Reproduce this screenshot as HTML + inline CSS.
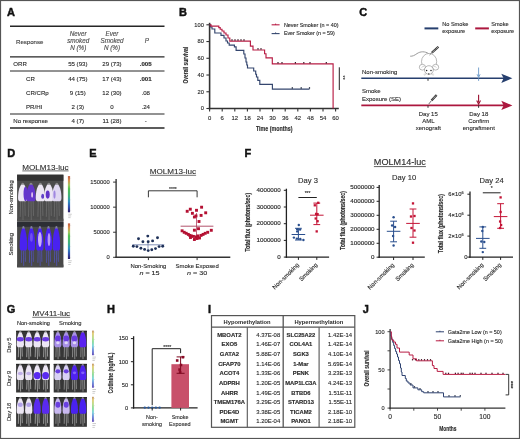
<!DOCTYPE html>
<html><head><meta charset="utf-8"><style>
html,body{margin:0;padding:0;background:#fff;width:520px;height:439px;overflow:hidden}
svg{display:block;will-change:transform}
text{font-family:"Liberation Sans",sans-serif;stroke:currentColor;stroke-width:0.12px;paint-order:stroke}
</style></head><body>
<svg width="520" height="439" viewBox="0 0 520 439" font-family="Liberation Sans, sans-serif">
<defs><filter id="blur06" x="-20%" y="-20%" width="140%" height="140%"><feGaussianBlur stdDeviation="0.6"/></filter></defs>
<rect x="0" y="0" width="520" height="439" fill="#fff"/>
<text x="7" y="16" font-size="11" text-anchor="start" font-weight="bold" fill="#111" color="#111" style="stroke-width:0.45px">A</text>
<line x1="10" y1="26.2" x2="164.5" y2="26.2" stroke="#262626" stroke-width="1.4"/>
<line x1="10" y1="56.9" x2="164.5" y2="56.9" stroke="#262626" stroke-width="1.4"/>
<line x1="10" y1="71" x2="164.5" y2="71" stroke="#262626" stroke-width="1.0"/>
<line x1="10" y1="114" x2="164.5" y2="114" stroke="#262626" stroke-width="1.2"/>
<line x1="10" y1="128" x2="164.5" y2="128" stroke="#262626" stroke-width="1.4"/>
<text x="16" y="43.6" font-size="6.1" text-anchor="start" fill="#3a3a3a" color="#3a3a3a">Response</text>
<text x="78.2" y="36.2" font-size="6.3" text-anchor="middle" font-style="italic" fill="#4a4a4a" color="#4a4a4a">Never</text>
<text x="78.2" y="43.1" font-size="6.3" text-anchor="middle" font-style="italic" fill="#4a4a4a" color="#4a4a4a">smoked</text>
<text x="78.2" y="50.0" font-size="6.3" text-anchor="middle" font-style="italic" fill="#4a4a4a" color="#4a4a4a">N (%)</text>
<text x="112" y="36.2" font-size="6.3" text-anchor="middle" font-style="italic" fill="#4a4a4a" color="#4a4a4a">Ever</text>
<text x="112" y="43.1" font-size="6.3" text-anchor="middle" font-style="italic" fill="#4a4a4a" color="#4a4a4a">Smoked</text>
<text x="112" y="50.0" font-size="6.3" text-anchor="middle" font-style="italic" fill="#4a4a4a" color="#4a4a4a">N (%)</text>
<text x="146.8" y="43.3" font-size="6.3" text-anchor="middle" font-style="italic" fill="#4a4a4a" color="#4a4a4a">P</text>
<text x="13.3" y="66.0" font-size="6.1" text-anchor="start" fill="#2a2a2a" color="#2a2a2a">ORR</text>
<text x="77.8" y="66.0" font-size="6.1" text-anchor="middle" fill="#2a2a2a" color="#2a2a2a">55 (93)</text>
<text x="112" y="66.0" font-size="6.1" text-anchor="middle" fill="#2a2a2a" color="#2a2a2a">29 (73)</text>
<text x="145.7" y="66.0" font-size="6.1" text-anchor="middle" font-weight="bold" fill="#2a2a2a" color="#2a2a2a" style="stroke-width:0.15px">.005</text>
<text x="26" y="80.6" font-size="6.1" text-anchor="start" fill="#2a2a2a" color="#2a2a2a">CR</text>
<text x="77.8" y="80.6" font-size="6.1" text-anchor="middle" fill="#2a2a2a" color="#2a2a2a">44 (75)</text>
<text x="112" y="80.6" font-size="6.1" text-anchor="middle" fill="#2a2a2a" color="#2a2a2a">17 (43)</text>
<text x="145.7" y="80.6" font-size="6.1" text-anchor="middle" font-weight="bold" fill="#2a2a2a" color="#2a2a2a" style="stroke-width:0.15px">.001</text>
<text x="26" y="94.7" font-size="6.1" text-anchor="start" fill="#2a2a2a" color="#2a2a2a">CR/CRp</text>
<text x="77.8" y="94.7" font-size="6.1" text-anchor="middle" fill="#2a2a2a" color="#2a2a2a">9 (15)</text>
<text x="112" y="94.7" font-size="6.1" text-anchor="middle" fill="#2a2a2a" color="#2a2a2a">12 (30)</text>
<text x="145.7" y="94.7" font-size="6.1" text-anchor="middle" fill="#2a2a2a" color="#2a2a2a">.08</text>
<text x="26" y="108.7" font-size="6.1" text-anchor="start" fill="#2a2a2a" color="#2a2a2a">PR/HI</text>
<text x="77.8" y="108.7" font-size="6.1" text-anchor="middle" fill="#2a2a2a" color="#2a2a2a">2 (3)</text>
<text x="112" y="108.7" font-size="6.1" text-anchor="middle" fill="#2a2a2a" color="#2a2a2a">0</text>
<text x="145.7" y="108.7" font-size="6.1" text-anchor="middle" fill="#2a2a2a" color="#2a2a2a">.24</text>
<text x="13.3" y="123.0" font-size="6.1" text-anchor="start" fill="#2a2a2a" color="#2a2a2a">No response</text>
<text x="77.8" y="123.0" font-size="6.1" text-anchor="middle" fill="#2a2a2a" color="#2a2a2a">4 (7)</text>
<text x="112" y="123.0" font-size="6.1" text-anchor="middle" fill="#2a2a2a" color="#2a2a2a">11 (28)</text>
<text x="145.7" y="123.0" font-size="6.1" text-anchor="middle" fill="#2a2a2a" color="#2a2a2a">-</text>
<text x="179" y="16" font-size="11" text-anchor="start" font-weight="bold" fill="#111" color="#111" style="stroke-width:0.45px">B</text>
<line x1="209.6" y1="22.8" x2="209.6" y2="109.3" stroke="#333" stroke-width="1.6"/>
<line x1="208.79999999999998" y1="108.5" x2="338.8" y2="108.5" stroke="#333" stroke-width="1.6"/>
<line x1="206.4" y1="108.5" x2="209.6" y2="108.5" stroke="#333" stroke-width="1.1"/>
<text transform="translate(203.9 110.4) scale(1.08 1)" font-size="5.3" text-anchor="end" fill="#2a2a2a" color="#2a2a2a">0</text>
<line x1="206.4" y1="91.76" x2="209.6" y2="91.76" stroke="#333" stroke-width="1.1"/>
<text transform="translate(203.9 93.66000000000001) scale(1.08 1)" font-size="5.3" text-anchor="end" fill="#2a2a2a" color="#2a2a2a">20</text>
<line x1="206.4" y1="75.02000000000001" x2="209.6" y2="75.02000000000001" stroke="#333" stroke-width="1.1"/>
<text transform="translate(203.9 76.92000000000002) scale(1.08 1)" font-size="5.3" text-anchor="end" fill="#2a2a2a" color="#2a2a2a">40</text>
<line x1="206.4" y1="58.28" x2="209.6" y2="58.28" stroke="#333" stroke-width="1.1"/>
<text transform="translate(203.9 60.18) scale(1.08 1)" font-size="5.3" text-anchor="end" fill="#2a2a2a" color="#2a2a2a">60</text>
<line x1="206.4" y1="41.540000000000006" x2="209.6" y2="41.540000000000006" stroke="#333" stroke-width="1.1"/>
<text transform="translate(203.9 43.440000000000005) scale(1.08 1)" font-size="5.3" text-anchor="end" fill="#2a2a2a" color="#2a2a2a">80</text>
<line x1="206.4" y1="24.799999999999997" x2="209.6" y2="24.799999999999997" stroke="#333" stroke-width="1.1"/>
<text transform="translate(203.9 26.699999999999996) scale(1.08 1)" font-size="5.3" text-anchor="end" fill="#2a2a2a" color="#2a2a2a">100</text>
<line x1="209.6" y1="108.5" x2="209.6" y2="111.5" stroke="#333" stroke-width="1.1"/>
<text transform="translate(209.6 119.5) scale(1.08 1)" font-size="5.5" text-anchor="middle" fill="#2a2a2a" color="#2a2a2a">0</text>
<line x1="222.2" y1="108.5" x2="222.2" y2="111.5" stroke="#333" stroke-width="1.1"/>
<text transform="translate(222.2 119.5) scale(1.08 1)" font-size="5.5" text-anchor="middle" fill="#2a2a2a" color="#2a2a2a">6</text>
<line x1="234.8" y1="108.5" x2="234.8" y2="111.5" stroke="#333" stroke-width="1.1"/>
<text transform="translate(234.8 119.5) scale(1.08 1)" font-size="5.5" text-anchor="middle" fill="#2a2a2a" color="#2a2a2a">12</text>
<line x1="247.4" y1="108.5" x2="247.4" y2="111.5" stroke="#333" stroke-width="1.1"/>
<text transform="translate(247.4 119.5) scale(1.08 1)" font-size="5.5" text-anchor="middle" fill="#2a2a2a" color="#2a2a2a">18</text>
<line x1="260.0" y1="108.5" x2="260.0" y2="111.5" stroke="#333" stroke-width="1.1"/>
<text transform="translate(260.0 119.5) scale(1.08 1)" font-size="5.5" text-anchor="middle" fill="#2a2a2a" color="#2a2a2a">24</text>
<line x1="272.6" y1="108.5" x2="272.6" y2="111.5" stroke="#333" stroke-width="1.1"/>
<text transform="translate(272.6 119.5) scale(1.08 1)" font-size="5.5" text-anchor="middle" fill="#2a2a2a" color="#2a2a2a">30</text>
<line x1="285.2" y1="108.5" x2="285.2" y2="111.5" stroke="#333" stroke-width="1.1"/>
<text transform="translate(285.2 119.5) scale(1.08 1)" font-size="5.5" text-anchor="middle" fill="#2a2a2a" color="#2a2a2a">36</text>
<line x1="297.8" y1="108.5" x2="297.8" y2="111.5" stroke="#333" stroke-width="1.1"/>
<text transform="translate(297.8 119.5) scale(1.08 1)" font-size="5.5" text-anchor="middle" fill="#2a2a2a" color="#2a2a2a">42</text>
<line x1="310.4" y1="108.5" x2="310.4" y2="111.5" stroke="#333" stroke-width="1.1"/>
<text transform="translate(310.4 119.5) scale(1.08 1)" font-size="5.5" text-anchor="middle" fill="#2a2a2a" color="#2a2a2a">48</text>
<line x1="323.0" y1="108.5" x2="323.0" y2="111.5" stroke="#333" stroke-width="1.1"/>
<text transform="translate(323.0 119.5) scale(1.08 1)" font-size="5.5" text-anchor="middle" fill="#2a2a2a" color="#2a2a2a">54</text>
<line x1="335.6" y1="108.5" x2="335.6" y2="111.5" stroke="#333" stroke-width="1.1"/>
<text transform="translate(335.6 119.5) scale(1.08 1)" font-size="5.5" text-anchor="middle" fill="#2a2a2a" color="#2a2a2a">60</text>
<text transform="translate(274.2 130.5) scale(0.73 1)" font-size="7.3" text-anchor="middle" font-weight="bold" fill="#2a2a2a" color="#2a2a2a" style="stroke-width:0.15px">Time (months)</text>
<text transform="translate(188.4 65.2) rotate(-90) scale(0.735 1)" font-size="6.7" text-anchor="middle" font-weight="bold" fill="#2a2a2a" color="#2a2a2a" style="stroke-width:0.15px">Overall survival</text>
<polyline points="209.60,24.80 210.50,24.80 210.50,27.00 212.00,27.00 212.00,29.00 214.80,29.00 214.80,33.00 221.00,33.00 221.00,35.30 224.00,35.30 224.00,38.00 226.00,38.00 226.00,41.00 227.50,41.00 227.50,43.00 229.20,43.00 229.20,45.10 234.40,45.10 234.40,46.80 236.10,46.80 236.10,50.30 243.80,50.30 243.80,54.00 245.00,54.00 245.00,58.00 246.00,58.00 246.00,62.00 246.80,62.00 246.80,65.00 247.50,65.00 247.50,68.00 253.70,68.00 253.70,71.00 255.70,71.00 255.70,74.20 256.50,74.20 256.50,77.00 257.80,77.00 257.80,80.30 259.80,80.30 259.80,84.40 272.40,84.40 272.40,89.10 309.50,89.10" fill="none" stroke="#34466e" stroke-width="1.15"/>
<polyline points="209.60,24.80 211.00,24.80 211.00,26.10 218.80,26.10 218.80,27.60 220.20,27.60 220.20,29.20 222.00,29.20 222.00,31.00 224.00,31.00 224.00,33.00 226.00,33.00 226.00,35.00 228.00,35.00 228.00,38.00 229.80,38.00 229.80,41.10 250.40,41.10 250.40,46.10 253.00,46.10 253.00,50.00 264.60,50.00 264.60,53.70 266.00,53.70 266.00,57.80 272.30,57.80 272.30,63.90 333.10,63.90 333.10,108.50" fill="none" stroke="#b81c44" stroke-width="1.15"/>
<rect x="231.4" y="39.2" width="1.2" height="1.5" fill="#3a1a28"/>
<rect x="234.4" y="39.2" width="1.2" height="1.5" fill="#3a1a28"/>
<rect x="237.4" y="39.2" width="1.2" height="1.5" fill="#3a1a28"/>
<rect x="240.4" y="39.2" width="1.2" height="1.5" fill="#3a1a28"/>
<rect x="243.4" y="39.2" width="1.2" height="1.5" fill="#3a1a28"/>
<rect x="257.4" y="48.1" width="1.2" height="1.5" fill="#3a1a28"/>
<rect x="260.4" y="48.1" width="1.2" height="1.5" fill="#3a1a28"/>
<rect x="277.4" y="62.0" width="1.2" height="1.5" fill="#3a1a28"/>
<rect x="281.4" y="62.0" width="1.2" height="1.5" fill="#3a1a28"/>
<rect x="294.79999999999995" y="62.0" width="1.2" height="1.5" fill="#3a1a28"/>
<rect x="303.2" y="62.0" width="1.2" height="1.5" fill="#3a1a28"/>
<rect x="309.4" y="62.0" width="1.2" height="1.5" fill="#3a1a28"/>
<rect x="325.7" y="62.0" width="1.2" height="1.5" fill="#3a1a28"/>
<rect x="291.7" y="87.19999999999999" width="1.2" height="1.5" fill="#1a2438"/>
<rect x="300.59999999999997" y="87.19999999999999" width="1.2" height="1.5" fill="#1a2438"/>
<rect x="308.9" y="87.19999999999999" width="1.2" height="1.5" fill="#1a2438"/>
<line x1="271.6" y1="24.8" x2="279.6" y2="24.8" stroke="#b81c44" stroke-width="1.1"/>
<line x1="275.6" y1="23.6" x2="275.6" y2="25" stroke="#b81c44" stroke-width="0.9"/>
<text transform="translate(283.9 26.7) scale(1.08 1)" font-size="5.0" text-anchor="start" fill="#2a2a2a" color="#2a2a2a">Never Smoker (n = 40)</text>
<line x1="271.6" y1="33.6" x2="279.6" y2="33.6" stroke="#34466e" stroke-width="1.1"/>
<line x1="275.6" y1="32.4" x2="275.6" y2="33.8" stroke="#34466e" stroke-width="0.9"/>
<text transform="translate(283.9 35.3) scale(1.07 1)" font-size="5.0" text-anchor="start" fill="#2a2a2a" color="#2a2a2a">Ever Smoker (n = 59)</text>
<line x1="339.3" y1="67.3" x2="339.3" y2="90.0" stroke="#222" stroke-width="1.0"/>
<text transform="translate(341.3 77.7) rotate(90)" font-size="5.4" text-anchor="middle" fill="#2a2a2a" color="#2a2a2a">**</text>
<text x="359.2" y="16" font-size="11" text-anchor="start" font-weight="bold" fill="#111" color="#111" style="stroke-width:0.45px">C</text>
<line x1="424.5" y1="28.4" x2="438.3" y2="28.4" stroke="#263f6e" stroke-width="2"/>
<text x="442.2" y="25.8" font-size="5.6" text-anchor="start" fill="#2a2a2a" color="#2a2a2a">No Smoke</text>
<text x="442.2" y="33.4" font-size="5.6" text-anchor="start" fill="#2a2a2a" color="#2a2a2a">exposure</text>
<line x1="475.2" y1="28.4" x2="488.9" y2="28.4" stroke="#ac173e" stroke-width="2"/>
<text x="491.2" y="25.8" font-size="5.6" text-anchor="start" fill="#2a2a2a" color="#2a2a2a">Smoke</text>
<text x="491.2" y="33.4" font-size="5.6" text-anchor="start" fill="#2a2a2a" color="#2a2a2a">exposure</text>
<text x="362" y="73.6" font-size="6.0" text-anchor="start" fill="#2a2a2a" color="#2a2a2a">Non-smoking</text>
<line x1="361.3" y1="78.3" x2="504" y2="78.3" stroke="#263f6e" stroke-width="1.6"/>
<path d="M501.3 73.7 L512.4 78.3 L501.3 82.9 L503.6 78.3 Z" fill="#263f6e"/>
<text x="362" y="93.0" font-size="6.0" text-anchor="start" fill="#2a2a2a" color="#2a2a2a">Smoke</text>
<text x="362" y="100.6" font-size="6.0" text-anchor="start" fill="#2a2a2a" color="#2a2a2a">Exposure (SE)</text>
<line x1="361.3" y1="105.4" x2="504" y2="105.4" stroke="#ac173e" stroke-width="1.7"/>
<path d="M501.3 100.7 L512.4 105.4 L501.3 110.1 L503.6 105.4 Z" fill="#ac173e"/>
<line x1="428" y1="78.3" x2="428" y2="80.8" stroke="#333" stroke-width="1"/>
<line x1="428" y1="105.4" x2="428" y2="107.8" stroke="#333" stroke-width="1"/>
<line x1="478.6" y1="105.4" x2="478.6" y2="107.8" stroke="#333" stroke-width="1"/>
<line x1="478.6" y1="67.5" x2="478.6" y2="76.5" stroke="#6a98c8" stroke-width="0.9"/>
<line x1="478.6" y1="78.3" x2="478.6" y2="80.9" stroke="#6a98c8" stroke-width="0.9"/>
<path d="M477.1 74.3 L478.6 77.4 L480.1 74.3" fill="none" stroke="#6a98c8" stroke-width="0.9"/>
<line x1="478.6" y1="94.8" x2="478.6" y2="102.5" stroke="#9b1030" stroke-width="1.1"/>
<path d="M476.7 100.5 L478.6 104 L480.5 100.5" fill="none" stroke="#9b1030" stroke-width="1.1"/>
<text x="428.3" y="116.2" font-size="6.0" text-anchor="middle" fill="#2a2a2a" color="#2a2a2a">Day 15</text>
<text x="428.3" y="123.3" font-size="6.0" text-anchor="middle" fill="#2a2a2a" color="#2a2a2a">AML</text>
<text x="428.3" y="130.4" font-size="6.0" text-anchor="middle" fill="#2a2a2a" color="#2a2a2a">xenograft</text>
<text x="478.8" y="116.2" font-size="6.0" text-anchor="middle" fill="#2a2a2a" color="#2a2a2a">Day 18</text>
<text x="478.8" y="123.3" font-size="6.0" text-anchor="middle" fill="#2a2a2a" color="#2a2a2a">Confirm</text>
<text x="478.8" y="130.4" font-size="6.0" text-anchor="middle" fill="#2a2a2a" color="#2a2a2a">engraftment</text>
<line x1="431.5" y1="100.5" x2="436.6" y2="95" stroke="#333" stroke-width="2.2"/>
<line x1="431.5" y1="100.5" x2="436.6" y2="95" stroke="#fff" stroke-width="0.9" stroke-dasharray="0.9 0.9"/>
<line x1="428.8" y1="104" x2="431.5" y2="100.5" stroke="#333" stroke-width="0.7"/>
<g fill="#fff" stroke="#8a8a8a" stroke-width="0.6"><path d="M428.6 53.6 C425 51.2, 420.5 51.2, 417 53.6 C414.5 55.4, 412.5 56.4, 410.2 56.2" fill="none" stroke="#9a9a9a" stroke-width="1.0"/><ellipse cx="429.1" cy="61.6" rx="7.6" ry="8.2"/><ellipse cx="422.4" cy="67.2" rx="3.1" ry="2.9"/><ellipse cx="435.6" cy="67.2" rx="3.1" ry="2.9"/><path d="M421.6 67.8 Q422.6 65.6 424.2 66.4 M436.4 67.8 Q435.4 65.6 433.8 66.4" fill="none" stroke="#aaa" stroke-width="0.5"/><ellipse cx="428.9" cy="70.0" rx="4.4" ry="4.3"/></g>
<circle cx="426.6" cy="70.6" r="0.75" fill="#222"/><circle cx="431.0" cy="70.6" r="0.75" fill="#222"/><circle cx="428.8" cy="73.9" r="0.7" fill="#222"/>
<path d="M426.5 73.5 L423.5 74.3 M426.5 74.2 L424 75.3 M431.1 73.5 L434.1 74.3 M431.1 74.2 L433.6 75.3" stroke="#999" stroke-width="0.35"/>
<line x1="431.8" y1="52.8" x2="438.4" y2="46.8" stroke="#333" stroke-width="2.2"/>
<line x1="431.8" y1="52.8" x2="438.4" y2="46.8" stroke="#fff" stroke-width="0.9" stroke-dasharray="0.9 0.9"/>
<line x1="429.5" y1="55" x2="431.8" y2="52.8" stroke="#333" stroke-width="0.6"/>
<text x="7.2" y="157" font-size="11" text-anchor="start" font-weight="bold" fill="#111" color="#111" style="stroke-width:0.45px">D</text>
<text x="22.3" y="169.6" font-size="8.1" text-anchor="start" fill="#2a2a2a" color="#2a2a2a">MOLM13-luc</text>
<line x1="22.3" y1="170.9" x2="68.6" y2="170.9" stroke="#333" stroke-width="0.7"/>
<text transform="translate(12.7 197.4) rotate(-90)" font-size="5.8" text-anchor="middle" fill="#2a2a2a" color="#2a2a2a">Non-smoking</text>
<text transform="translate(12.6 244.2) rotate(-90)" font-size="5.8" text-anchor="middle" fill="#2a2a2a" color="#2a2a2a">Smoking</text>
<rect x="17.1" y="174.7" width="46.3" height="46.8" fill="#4c4c4c"/>
<rect x="17.1" y="174.7" width="46.3" height="6.084" fill="#333333"/>
<rect x="17.1" y="218.69199999999998" width="46.3" height="2.808" fill="#505050"/>
<g filter="url(#blur06)">
<path d="M20.6 200.1 L20.2 216.8 M24.8 200.1 L25.2 215.9 M22.7 201.1 L23.0 220.1" stroke="#6a6a6a" stroke-width="0.9" fill="none"/>
<ellipse cx="22.7" cy="184.4" rx="1.5" ry="1.6" fill="#8a8a8a"/>
<path d="M21.08 184.76 L24.32 184.76 C25.94 187.22 27.33 191.31 27.33 197.87 Q27.33 201.14 25.94 201.14 L19.46 201.14 Q18.07 201.14 18.07 197.87 C18.07 191.31 19.46 187.22 21.08 184.76 Z" fill="#ece6f4"/>
<ellipse cx="25.5" cy="193.8" rx="2.0" ry="7.4" fill="#6434cc"/>
<path d="M28.9 200.1 L28.5 216.8 M33.1 200.1 L33.5 215.9 M31.0 201.1 L31.3 220.1" stroke="#6a6a6a" stroke-width="0.9" fill="none"/>
<ellipse cx="31.0" cy="184.4" rx="1.5" ry="1.6" fill="#8a8a8a"/>
<path d="M29.38 184.76 L32.62 184.76 C34.24 187.22 35.63 191.31 35.63 197.87 Q35.63 201.14 34.24 201.14 L27.76 201.14 Q26.37 201.14 26.37 197.87 C26.37 191.31 27.76 187.22 29.38 184.76 Z" fill="#6434cc"/>
<ellipse cx="32.1" cy="194.9" rx="0.9" ry="2.9" fill="#e6c8f2"/>
<path d="M38.3 200.1 L37.9 216.8 M42.5 200.1 L42.9 215.9 M40.4 201.1 L40.7 220.1" stroke="#6a6a6a" stroke-width="0.9" fill="none"/>
<ellipse cx="40.4" cy="184.4" rx="1.5" ry="1.6" fill="#8a8a8a"/>
<path d="M38.78 184.76 L42.02 184.76 C43.64 187.22 45.03 191.31 45.03 197.87 Q45.03 201.14 43.64 201.14 L37.16 201.14 Q35.77 201.14 35.77 197.87 C35.77 191.31 37.16 187.22 38.78 184.76 Z" fill="#ece6f4"/>
<ellipse cx="42.7" cy="196.2" rx="1.5" ry="2.5" fill="#6040c8"/>
<path d="M46.7 200.1 L46.3 216.8 M50.9 200.1 L51.3 215.9 M48.8 201.1 L49.1 220.1" stroke="#6a6a6a" stroke-width="0.9" fill="none"/>
<ellipse cx="48.8" cy="184.4" rx="1.5" ry="1.6" fill="#8a8a8a"/>
<path d="M47.18 184.76 L50.42 184.76 C52.04 187.22 53.43 191.31 53.43 197.87 Q53.43 201.14 52.04 201.14 L45.56 201.14 Q44.17 201.14 44.17 197.87 C44.17 191.31 45.56 187.22 47.18 184.76 Z" fill="#ece6f4"/>
<ellipse cx="47.7" cy="194.6" rx="2.0" ry="4.1" fill="#6030c8"/>
<path d="M54.7 200.1 L54.3 216.8 M58.9 200.1 L59.3 215.9 M56.8 201.1 L57.1 220.1" stroke="#6a6a6a" stroke-width="0.9" fill="none"/>
<ellipse cx="56.8" cy="184.4" rx="1.5" ry="1.6" fill="#8a8a8a"/>
<path d="M55.18 184.76 L58.42 184.76 C60.04 187.22 61.43 191.31 61.43 197.87 Q61.43 201.14 60.04 201.14 L53.56 201.14 Q52.17 201.14 52.17 197.87 C52.17 191.31 53.56 187.22 55.18 184.76 Z" fill="#e0d8f2"/>
<ellipse cx="54.5" cy="194.6" rx="1.1" ry="4.1" fill="#a088e0"/>
</g>
<rect x="17.1" y="221.8" width="46.3" height="45.5" fill="#484848"/>
<rect x="17.1" y="221.8" width="46.3" height="5.005" fill="#2c2e34"/>
<rect x="17.1" y="264.57" width="46.3" height="2.73" fill="#4a4a4a"/>
<g filter="url(#blur06)">
<path d="M21.7 249.5 L21.4 262.8 M25.1 249.5 L25.4 261.8 M23.4 250.5 L23.7 265.9" stroke="#5050a0" stroke-width="1.0" fill="none"/>
<ellipse cx="23.4" cy="228.2" rx="1.2" ry="2.2" fill="#8080a0"/>
<path d="M22.10 228.62 L24.70 228.62 C25.99 231.90 27.10 237.36 27.10 246.10 Q27.10 250.47 25.99 250.47 L20.81 250.47 Q19.70 250.47 19.70 246.10 C19.70 237.36 20.81 231.90 22.10 228.62 Z" fill="#4a22f0"/>
<path d="M29.7 249.5 L29.4 262.8 M33.1 249.5 L33.4 261.8 M31.4 250.5 L31.7 265.9" stroke="#5050a0" stroke-width="1.0" fill="none"/>
<ellipse cx="31.4" cy="228.2" rx="1.2" ry="2.2" fill="#8080a0"/>
<path d="M30.10 228.62 L32.70 228.62 C33.99 231.90 35.10 237.36 35.10 246.10 Q35.10 250.47 33.99 250.47 L28.81 250.47 Q27.70 250.47 27.70 246.10 C27.70 237.36 28.81 231.90 30.10 228.62 Z" fill="#4a22f0"/>
<ellipse cx="31.4" cy="237.4" rx="1.4" ry="4.4" fill="#7050f0"/>
<path d="M38.2 249.5 L37.9 262.8 M41.6 249.5 L41.9 261.8 M39.9 250.5 L40.2 265.9" stroke="#5050a0" stroke-width="1.0" fill="none"/>
<ellipse cx="39.9" cy="228.2" rx="1.2" ry="2.2" fill="#8080a0"/>
<path d="M38.60 228.62 L41.20 228.62 C42.49 231.90 43.60 237.36 43.60 246.10 Q43.60 250.47 42.49 250.47 L37.31 250.47 Q36.20 250.47 36.20 246.10 C36.20 237.36 37.31 231.90 38.60 228.62 Z" fill="#4a22f0"/>
<ellipse cx="39.9" cy="239.5" rx="1.9" ry="7.6" fill="#c8b0f8"/>
<path d="M46.8 249.5 L46.5 262.8 M50.2 249.5 L50.5 261.8 M48.5 250.5 L48.8 265.9" stroke="#5050a0" stroke-width="1.0" fill="none"/>
<ellipse cx="48.5" cy="228.2" rx="1.2" ry="2.2" fill="#8080a0"/>
<path d="M47.20 228.62 L49.80 228.62 C51.09 231.90 52.20 237.36 52.20 246.10 Q52.20 250.47 51.09 250.47 L45.91 250.47 Q44.80 250.47 44.80 246.10 C44.80 237.36 45.91 231.90 47.20 228.62 Z" fill="#4a22f0"/>
<ellipse cx="49.0" cy="239.5" rx="1.4" ry="6.6" fill="#b898f8"/>
<path d="M54.7 249.5 L54.4 262.8 M58.1 249.5 L58.4 261.8 M56.4 250.5 L56.7 265.9" stroke="#5050a0" stroke-width="1.0" fill="none"/>
<ellipse cx="56.4" cy="228.2" rx="1.2" ry="2.2" fill="#8080a0"/>
<path d="M55.10 228.62 L57.70 228.62 C58.99 231.90 60.10 237.36 60.10 246.10 Q60.10 250.47 58.99 250.47 L53.81 250.47 Q52.70 250.47 52.70 246.10 C52.70 237.36 53.81 231.90 55.10 228.62 Z" fill="#4a22f0"/>
</g>
<defs><linearGradient id="cbd1" x1="0" y1="0" x2="0" y2="1"><stop offset="0" stop-color="#c05a40"/><stop offset="0.12" stop-color="#d89050"/><stop offset="0.25" stop-color="#a0c860"/><stop offset="0.35" stop-color="#50c050"/><stop offset="0.55" stop-color="#40b080"/><stop offset="0.7" stop-color="#3090c0"/><stop offset="0.85" stop-color="#3050b0"/><stop offset="1" stop-color="#302068"/></linearGradient></defs>
<rect x="67.9" y="176.1" width="2.2" height="36.2" fill="url(#cbd1)"/>
<rect x="70.50000000000001" y="177.91" width="0.6" height="0.5" fill="#c0c0c0"/>
<rect x="70.50000000000001" y="188.76999999999998" width="0.6" height="0.5" fill="#c0c0c0"/>
<rect x="70.50000000000001" y="199.63" width="0.6" height="0.5" fill="#c0c0c0"/>
<rect x="70.50000000000001" y="210.49" width="0.6" height="0.5" fill="#c0c0c0"/>
<rect x="68.2" y="213.8" width="3.6" height="0.7" fill="#b8b8b8"/>
<rect x="68.2" y="215.60000000000002" width="3.0" height="0.7" fill="#b8b8b8"/>
<rect x="68.2" y="217.4" width="2.4000000000000004" height="0.7" fill="#b8b8b8"/>
<defs><linearGradient id="cbd2" x1="0" y1="0" x2="0" y2="1"><stop offset="0" stop-color="#c05a40"/><stop offset="0.12" stop-color="#d89050"/><stop offset="0.25" stop-color="#a0c860"/><stop offset="0.35" stop-color="#50c050"/><stop offset="0.55" stop-color="#40b080"/><stop offset="0.7" stop-color="#3090c0"/><stop offset="0.85" stop-color="#3050b0"/><stop offset="1" stop-color="#302068"/></linearGradient></defs>
<rect x="67.9" y="223.4" width="2.2" height="35.6" fill="url(#cbd2)"/>
<rect x="70.50000000000001" y="225.18" width="0.6" height="0.5" fill="#c0c0c0"/>
<rect x="70.50000000000001" y="235.86" width="0.6" height="0.5" fill="#c0c0c0"/>
<rect x="70.50000000000001" y="246.54000000000002" width="0.6" height="0.5" fill="#c0c0c0"/>
<rect x="70.50000000000001" y="257.22" width="0.6" height="0.5" fill="#c0c0c0"/>
<rect x="68.2" y="260.5" width="3.6" height="0.7" fill="#b8b8b8"/>
<rect x="68.2" y="262.3" width="3.0" height="0.7" fill="#b8b8b8"/>
<rect x="68.2" y="264.1" width="2.4000000000000004" height="0.7" fill="#b8b8b8"/>
<text x="89.3" y="157" font-size="11" text-anchor="start" font-weight="bold" fill="#111" color="#111" style="stroke-width:0.45px">E</text>
<text x="173" y="174.0" font-size="8.1" text-anchor="middle" fill="#2a2a2a" color="#2a2a2a">MOLM13-luc</text>
<line x1="149.9" y1="175.3" x2="196.1" y2="175.3" stroke="#333" stroke-width="0.7"/>
<line x1="116.1" y1="179.1" x2="116.1" y2="258.0" stroke="#222" stroke-width="1.25"/>
<line x1="115.39999999999999" y1="257.3" x2="230.3" y2="257.3" stroke="#333" stroke-width="1.4"/>
<line x1="113.1" y1="257.3" x2="116.1" y2="257.3" stroke="#333" stroke-width="1"/>
<text x="109.7" y="259.3" font-size="5.8" text-anchor="end" fill="#2a2a2a" color="#2a2a2a">0</text>
<line x1="113.1" y1="232.23333333333335" x2="116.1" y2="232.23333333333335" stroke="#333" stroke-width="1"/>
<text x="109.7" y="234.23333333333335" font-size="5.8" text-anchor="end" fill="#2a2a2a" color="#2a2a2a">50000</text>
<line x1="113.1" y1="207.16666666666669" x2="116.1" y2="207.16666666666669" stroke="#333" stroke-width="1"/>
<text x="109.7" y="209.16666666666669" font-size="5.8" text-anchor="end" fill="#2a2a2a" color="#2a2a2a">100000</text>
<line x1="113.1" y1="182.10000000000002" x2="116.1" y2="182.10000000000002" stroke="#333" stroke-width="1"/>
<text x="109.7" y="184.10000000000002" font-size="5.8" text-anchor="end" fill="#2a2a2a" color="#2a2a2a">150000</text>
<line x1="148.4" y1="257.3" x2="148.4" y2="260.1" stroke="#333" stroke-width="1"/>
<line x1="197.1" y1="257.3" x2="197.1" y2="260.1" stroke="#333" stroke-width="1"/>
<path d="M148.4 197.3 V190.8 H197.1 V197.3" fill="none" stroke="#222" stroke-width="0.9"/>
<text x="172.9" y="190.9" font-size="5.0" text-anchor="middle" fill="#2a2a2a" color="#2a2a2a">****</text>
<text x="148.4" y="268.0" font-size="5.95" text-anchor="middle" fill="#2a2a2a" color="#2a2a2a">Non-Smoking</text>
<text transform="translate(149.5 274.9) scale(1.2 1)" font-size="6.0" text-anchor="middle" fill="#2a2a2a" color="#2a2a2a"><tspan font-style="italic">n</tspan> = 15</text>
<text x="197.1" y="268.0" font-size="5.95" text-anchor="middle" fill="#2a2a2a" color="#2a2a2a">Smoke Exposed</text>
<text transform="translate(197.1 274.9) scale(1.2 1)" font-size="6.0" text-anchor="middle" fill="#2a2a2a" color="#2a2a2a"><tspan font-style="italic">n</tspan> = 30</text>
<line x1="148.0" y1="240.7" x2="148.0" y2="249.3" stroke="#7080a8" stroke-width="0.8"/>
<line x1="132.4" y1="244.8" x2="164.3" y2="244.8" stroke="#7888b0" stroke-width="0.9"/>
<circle cx="147.8" cy="236.1" r="1.45" fill="#1e3058"/>
<circle cx="138.5" cy="238.7" r="1.45" fill="#1e3058"/>
<circle cx="157.5" cy="237.7" r="1.45" fill="#1e3058"/>
<circle cx="142.9" cy="241.7" r="1.45" fill="#1e3058"/>
<circle cx="148.2" cy="241.7" r="1.45" fill="#1e3058"/>
<circle cx="152.6" cy="240.9" r="1.45" fill="#1e3058"/>
<circle cx="133.3" cy="246.2" r="1.45" fill="#1e3058"/>
<circle cx="136.9" cy="246.6" r="1.45" fill="#1e3058"/>
<circle cx="140.9" cy="248.2" r="1.45" fill="#1e3058"/>
<circle cx="144.6" cy="249.4" r="1.45" fill="#1e3058"/>
<circle cx="148.2" cy="250.6" r="1.45" fill="#1e3058"/>
<circle cx="151.8" cy="249.8" r="1.45" fill="#1e3058"/>
<circle cx="155.5" cy="248.6" r="1.45" fill="#1e3058"/>
<circle cx="159.1" cy="246.6" r="1.45" fill="#1e3058"/>
<circle cx="162.7" cy="246.2" r="1.45" fill="#1e3058"/>
<line x1="196.5" y1="213" x2="196.5" y2="237" stroke="#b04060" stroke-width="0.8"/>
<line x1="180.6" y1="226.2" x2="213.4" y2="226.2" stroke="#a8405a" stroke-width="0.9"/>
<rect x="185.75" y="209.85" width="2.9" height="2.9" fill="#b41032"/>
<rect x="188.85" y="207.75" width="2.9" height="2.9" fill="#b41032"/>
<rect x="195.05" y="208.85" width="2.9" height="2.9" fill="#b41032"/>
<rect x="200.15" y="205.75" width="2.9" height="2.9" fill="#b41032"/>
<rect x="204.25" y="211.35" width="2.9" height="2.9" fill="#b41032"/>
<rect x="190.95" y="211.85" width="2.9" height="2.9" fill="#b41032"/>
<rect x="194.55" y="214.45" width="2.9" height="2.9" fill="#b41032"/>
<rect x="199.65" y="213.95" width="2.9" height="2.9" fill="#b41032"/>
<rect x="192.95" y="215.55" width="2.9" height="2.9" fill="#b41032"/>
<rect x="197.55" y="220.05" width="2.9" height="2.9" fill="#b41032"/>
<rect x="197.05" y="227.25" width="2.9" height="2.9" fill="#b41032"/>
<rect x="192.95" y="228.75" width="2.9" height="2.9" fill="#b41032"/>
<rect x="180.65" y="229.35" width="2.9" height="2.9" fill="#b41032"/>
<rect x="182.75" y="230.85" width="2.9" height="2.9" fill="#b41032"/>
<rect x="184.75" y="231.85" width="2.9" height="2.9" fill="#b41032"/>
<rect x="186.85" y="232.95" width="2.9" height="2.9" fill="#b41032"/>
<rect x="188.35" y="233.95" width="2.9" height="2.9" fill="#b41032"/>
<rect x="189.85" y="234.45" width="2.9" height="2.9" fill="#b41032"/>
<rect x="191.95" y="234.95" width="2.9" height="2.9" fill="#b41032"/>
<rect x="192.95" y="238.05" width="2.9" height="2.9" fill="#b41032"/>
<rect x="194.45" y="235.45" width="2.9" height="2.9" fill="#b41032"/>
<rect x="196.55" y="234.45" width="2.9" height="2.9" fill="#b41032"/>
<rect x="198.05" y="236.55" width="2.9" height="2.9" fill="#b41032"/>
<rect x="199.65" y="233.95" width="2.9" height="2.9" fill="#b41032"/>
<rect x="201.65" y="232.95" width="2.9" height="2.9" fill="#b41032"/>
<rect x="203.75" y="231.85" width="2.9" height="2.9" fill="#b41032"/>
<rect x="206.25" y="230.85" width="2.9" height="2.9" fill="#b41032"/>
<rect x="209.85" y="228.85" width="2.9" height="2.9" fill="#b41032"/>
<rect x="189.05" y="236.05" width="2.9" height="2.9" fill="#b41032"/>
<rect x="195.55" y="237.05" width="2.9" height="2.9" fill="#b41032"/>
<text x="244.6" y="157" font-size="11" text-anchor="start" font-weight="bold" fill="#111" color="#111" style="stroke-width:0.45px">F</text>
<text x="399.9" y="165.2" font-size="9.1" text-anchor="middle" fill="#2a2a2a" color="#2a2a2a">MOLM14-luc</text>
<line x1="373.9" y1="166.6" x2="425.9" y2="166.6" stroke="#333" stroke-width="0.8"/>
<line x1="286.4" y1="188.7" x2="286.4" y2="257.8" stroke="#222" stroke-width="1.3"/>
<line x1="285.7" y1="257.1" x2="329.1" y2="257.1" stroke="#222" stroke-width="1.3"/>
<line x1="283.79999999999995" y1="257.1" x2="286.4" y2="257.1" stroke="#222" stroke-width="1.0"/>
<text transform="translate(280.8 258.8) scale(1.36 1)" font-size="4.6" text-anchor="end" fill="#2a2a2a" color="#2a2a2a">0</text>
<line x1="283.79999999999995" y1="240.4" x2="286.4" y2="240.4" stroke="#222" stroke-width="1.0"/>
<text transform="translate(280.8 242.1) scale(1.36 1)" font-size="4.6" text-anchor="end" fill="#2a2a2a" color="#2a2a2a">1000000</text>
<line x1="283.79999999999995" y1="223.7" x2="286.4" y2="223.7" stroke="#222" stroke-width="1.0"/>
<text transform="translate(280.8 225.39999999999998) scale(1.36 1)" font-size="4.6" text-anchor="end" fill="#2a2a2a" color="#2a2a2a">2000000</text>
<line x1="283.79999999999995" y1="207.0" x2="286.4" y2="207.0" stroke="#222" stroke-width="1.0"/>
<text transform="translate(280.8 208.7) scale(1.36 1)" font-size="4.6" text-anchor="end" fill="#2a2a2a" color="#2a2a2a">3000000</text>
<line x1="283.79999999999995" y1="190.3" x2="286.4" y2="190.3" stroke="#222" stroke-width="1.0"/>
<text transform="translate(280.8 192.0) scale(1.36 1)" font-size="4.6" text-anchor="end" fill="#2a2a2a" color="#2a2a2a">4000000</text>
<text transform="translate(308.0 182.7) scale(0.95 1)" font-size="8.0" text-anchor="middle" fill="#2a2a2a" color="#2a2a2a">Day 3</text>
<text transform="translate(250.39999999999998 222.3) rotate(-90) scale(0.79 1)" font-size="6.7" text-anchor="middle" font-weight="bold" fill="#2a2a2a" color="#2a2a2a" style="stroke-width:0.15px">Total flux (photons/sec)</text>
<line x1="298.4" y1="257.1" x2="298.4" y2="259.90000000000003" stroke="#222" stroke-width="1.0"/>
<line x1="316.8" y1="257.1" x2="316.8" y2="259.90000000000003" stroke="#222" stroke-width="1.0"/>
<text transform="translate(299.4 265.3) rotate(-45)" font-size="5.9" text-anchor="end" fill="#2a2a2a" color="#2a2a2a">Non-smoking</text>
<text transform="translate(317.8 265.3) rotate(-45)" font-size="5.9" text-anchor="end" fill="#2a2a2a" color="#2a2a2a">Smoking</text>
<line x1="298.4" y1="228.3" x2="298.4" y2="240.0" stroke="#2a4f8e" stroke-width="1.0"/>
<line x1="295.0" y1="228.3" x2="301.79999999999995" y2="228.3" stroke="#2a4f8e" stroke-width="1.0"/>
<line x1="295.0" y1="240.0" x2="301.79999999999995" y2="240.0" stroke="#2a4f8e" stroke-width="1.0"/>
<line x1="291.59999999999997" y1="234.5" x2="305.2" y2="234.5" stroke="#2a4f8e" stroke-width="1.0"/>
<circle cx="298.79999999999995" cy="225" r="1.2" fill="#2a4f8e"/>
<circle cx="297.2" cy="229.3" r="1.2" fill="#2a4f8e"/>
<circle cx="300.09999999999997" cy="229.6" r="1.2" fill="#2a4f8e"/>
<circle cx="297.2" cy="231.4" r="1.2" fill="#2a4f8e"/>
<circle cx="293.9" cy="237.6" r="1.2" fill="#2a4f8e"/>
<circle cx="296.9" cy="238.6" r="1.2" fill="#2a4f8e"/>
<circle cx="300.29999999999995" cy="239" r="1.2" fill="#2a4f8e"/>
<circle cx="303.4" cy="240" r="1.2" fill="#2a4f8e"/>
<line x1="316.8" y1="203.1" x2="316.8" y2="224.6" stroke="#c41436" stroke-width="1.0"/>
<line x1="313.40000000000003" y1="203.1" x2="320.2" y2="203.1" stroke="#c41436" stroke-width="1.0"/>
<line x1="313.40000000000003" y1="224.6" x2="320.2" y2="224.6" stroke="#c41436" stroke-width="1.0"/>
<line x1="310.0" y1="215.2" x2="323.6" y2="215.2" stroke="#c41436" stroke-width="1.0"/>
<rect x="317.05" y="201.65" width="2.3" height="2.3" fill="#c41436"/>
<rect x="313.65" y="204.15" width="2.3" height="2.3" fill="#c41436"/>
<rect x="314.95" y="212.75" width="2.3" height="2.3" fill="#c41436"/>
<rect x="316.45" y="213.05" width="2.3" height="2.3" fill="#c41436"/>
<rect x="314.55" y="217.35" width="2.3" height="2.3" fill="#c41436"/>
<rect x="316.45" y="220.05" width="2.3" height="2.3" fill="#c41436"/>
<rect x="315.55" y="230.25" width="2.3" height="2.3" fill="#c41436"/>
<line x1="298.4" y1="197.5" x2="316.8" y2="197.5" stroke="#222" stroke-width="1.0"/>
<text x="307.6" y="194.9" font-size="5.0" text-anchor="middle" fill="#2a2a2a" color="#2a2a2a">***</text>
<line x1="379.2" y1="185" x2="379.2" y2="257.9" stroke="#222" stroke-width="1.3"/>
<line x1="378.5" y1="257.2" x2="424.8" y2="257.2" stroke="#222" stroke-width="1.3"/>
<line x1="376.59999999999997" y1="257.2" x2="379.2" y2="257.2" stroke="#222" stroke-width="1.0"/>
<text transform="translate(374.6 258.9) scale(1.36 1)" font-size="4.6" text-anchor="end" fill="#2a2a2a" color="#2a2a2a">0</text>
<line x1="376.59999999999997" y1="243.3" x2="379.2" y2="243.3" stroke="#222" stroke-width="1.0"/>
<text transform="translate(374.6 245.0) scale(1.36 1)" font-size="4.6" text-anchor="end" fill="#2a2a2a" color="#2a2a2a">1000000</text>
<line x1="376.59999999999997" y1="229.3" x2="379.2" y2="229.3" stroke="#222" stroke-width="1.0"/>
<text transform="translate(374.6 231.0) scale(1.36 1)" font-size="4.6" text-anchor="end" fill="#2a2a2a" color="#2a2a2a">2000000</text>
<line x1="376.59999999999997" y1="215.3" x2="379.2" y2="215.3" stroke="#222" stroke-width="1.0"/>
<text transform="translate(374.6 217.0) scale(1.36 1)" font-size="4.6" text-anchor="end" fill="#2a2a2a" color="#2a2a2a">3000000</text>
<line x1="376.59999999999997" y1="201.3" x2="379.2" y2="201.3" stroke="#222" stroke-width="1.0"/>
<text transform="translate(374.6 203.0) scale(1.36 1)" font-size="4.6" text-anchor="end" fill="#2a2a2a" color="#2a2a2a">4000000</text>
<line x1="376.59999999999997" y1="187.4" x2="379.2" y2="187.4" stroke="#222" stroke-width="1.0"/>
<text transform="translate(374.6 189.1) scale(1.36 1)" font-size="4.6" text-anchor="end" fill="#2a2a2a" color="#2a2a2a">5000000</text>
<text transform="translate(404.1 180.0) scale(0.95 1)" font-size="8.0" text-anchor="middle" fill="#2a2a2a" color="#2a2a2a">Day 10</text>
<text transform="translate(345.09999999999997 220.5) rotate(-90) scale(0.79 1)" font-size="6.7" text-anchor="middle" font-weight="bold" fill="#2a2a2a" color="#2a2a2a" style="stroke-width:0.15px">Total flux (photons/sec)</text>
<line x1="393.6" y1="257.2" x2="393.6" y2="260.0" stroke="#222" stroke-width="1.0"/>
<line x1="413.0" y1="257.2" x2="413.0" y2="260.0" stroke="#222" stroke-width="1.0"/>
<text transform="translate(394.6 265.4) rotate(-45)" font-size="5.9" text-anchor="end" fill="#2a2a2a" color="#2a2a2a">Non-smoking</text>
<text transform="translate(414.0 265.4) rotate(-45)" font-size="5.9" text-anchor="end" fill="#2a2a2a" color="#2a2a2a">Smoking</text>
<line x1="393.6" y1="221.2" x2="393.6" y2="241.8" stroke="#2a4f8e" stroke-width="1.0"/>
<line x1="390.20000000000005" y1="221.2" x2="397.0" y2="221.2" stroke="#2a4f8e" stroke-width="1.0"/>
<line x1="390.20000000000005" y1="241.8" x2="397.0" y2="241.8" stroke="#2a4f8e" stroke-width="1.0"/>
<line x1="386.8" y1="231.3" x2="400.40000000000003" y2="231.3" stroke="#2a4f8e" stroke-width="1.0"/>
<circle cx="393.6" cy="217.2" r="1.2" fill="#2a4f8e"/>
<circle cx="392.1" cy="225.5" r="1.2" fill="#2a4f8e"/>
<circle cx="395.1" cy="227" r="1.2" fill="#2a4f8e"/>
<circle cx="393.1" cy="236" r="1.2" fill="#2a4f8e"/>
<circle cx="393.6" cy="245.5" r="1.2" fill="#2a4f8e"/>
<line x1="413.0" y1="209" x2="413.0" y2="237.2" stroke="#c41436" stroke-width="1.0"/>
<line x1="409.6" y1="209" x2="416.4" y2="209" stroke="#c41436" stroke-width="1.0"/>
<line x1="409.6" y1="237.2" x2="416.4" y2="237.2" stroke="#c41436" stroke-width="1.0"/>
<line x1="406.2" y1="223.4" x2="419.8" y2="223.4" stroke="#c41436" stroke-width="1.0"/>
<rect x="411.85" y="202.25" width="2.3" height="2.3" fill="#c41436"/>
<rect x="409.85" y="215.35" width="2.3" height="2.3" fill="#c41436"/>
<rect x="413.35" y="214.85" width="2.3" height="2.3" fill="#c41436"/>
<rect x="410.35" y="226.85" width="2.3" height="2.3" fill="#c41436"/>
<rect x="413.35" y="229.35" width="2.3" height="2.3" fill="#c41436"/>
<rect x="411.85" y="241.55" width="2.3" height="2.3" fill="#c41436"/>
<line x1="470.0" y1="191.4" x2="470.0" y2="257.8" stroke="#222" stroke-width="1.3"/>
<line x1="469.3" y1="257.1" x2="513.0" y2="257.1" stroke="#222" stroke-width="1.3"/>
<line x1="467.4" y1="257.1" x2="470.0" y2="257.1" stroke="#222" stroke-width="1.0"/>
<text transform="translate(467.6 258.8) scale(1.2 1)" font-size="4.9" text-anchor="end" fill="#2a2a2a" color="#2a2a2a">0</text>
<line x1="467.4" y1="236.1" x2="470.0" y2="236.1" stroke="#222" stroke-width="1.0"/>
<text transform="translate(463.6 237.79999999999998) scale(1.2 1)" font-size="4.9" text-anchor="end" fill="#2a2a2a" color="#2a2a2a">2×10<tspan dy="-1.6" font-size="3.2">6</tspan></text>
<line x1="467.4" y1="215.2" x2="470.0" y2="215.2" stroke="#222" stroke-width="1.0"/>
<text transform="translate(463.6 216.89999999999998) scale(1.2 1)" font-size="4.9" text-anchor="end" fill="#2a2a2a" color="#2a2a2a">4×10<tspan dy="-1.6" font-size="3.2">6</tspan></text>
<line x1="467.4" y1="194.2" x2="470.0" y2="194.2" stroke="#222" stroke-width="1.0"/>
<text transform="translate(463.6 195.89999999999998) scale(1.2 1)" font-size="4.9" text-anchor="end" fill="#2a2a2a" color="#2a2a2a">6×10<tspan dy="-1.6" font-size="3.2">6</tspan></text>
<text transform="translate(491.6 183.0) scale(0.95 1)" font-size="8.0" text-anchor="middle" fill="#2a2a2a" color="#2a2a2a">Day 24</text>
<text transform="translate(442.7 223.65) rotate(-90) scale(0.79 1)" font-size="6.7" text-anchor="middle" font-weight="bold" fill="#2a2a2a" color="#2a2a2a" style="stroke-width:0.15px">Total flux (photons/sec)</text>
<line x1="482.8" y1="257.1" x2="482.8" y2="259.90000000000003" stroke="#222" stroke-width="1.0"/>
<line x1="500.6" y1="257.1" x2="500.6" y2="259.90000000000003" stroke="#222" stroke-width="1.0"/>
<text transform="translate(483.8 265.3) rotate(-45)" font-size="5.9" text-anchor="end" fill="#2a2a2a" color="#2a2a2a">Non-smoking</text>
<text transform="translate(501.6 265.3) rotate(-45)" font-size="5.9" text-anchor="end" fill="#2a2a2a" color="#2a2a2a">Smoking</text>
<line x1="482.8" y1="226.9" x2="482.8" y2="248.3" stroke="#2a4f8e" stroke-width="1.0"/>
<line x1="479.40000000000003" y1="226.9" x2="486.2" y2="226.9" stroke="#2a4f8e" stroke-width="1.0"/>
<line x1="479.40000000000003" y1="248.3" x2="486.2" y2="248.3" stroke="#2a4f8e" stroke-width="1.0"/>
<line x1="476.0" y1="238.4" x2="489.6" y2="238.4" stroke="#2a4f8e" stroke-width="1.0"/>
<circle cx="482.8" cy="227" r="1.2" fill="#2a4f8e"/>
<circle cx="482.3" cy="231" r="1.2" fill="#2a4f8e"/>
<circle cx="481.3" cy="241.5" r="1.2" fill="#2a4f8e"/>
<circle cx="484.3" cy="242" r="1.2" fill="#2a4f8e"/>
<circle cx="482.8" cy="252.1" r="1.2" fill="#2a4f8e"/>
<line x1="500.6" y1="203.7" x2="500.6" y2="228.3" stroke="#c41436" stroke-width="1.0"/>
<line x1="497.20000000000005" y1="203.7" x2="504.0" y2="203.7" stroke="#c41436" stroke-width="1.0"/>
<line x1="497.20000000000005" y1="228.3" x2="504.0" y2="228.3" stroke="#c41436" stroke-width="1.0"/>
<line x1="493.8" y1="216.6" x2="507.40000000000003" y2="216.6" stroke="#c41436" stroke-width="1.0"/>
<rect x="499.45" y="196.25" width="2.3" height="2.3" fill="#c41436"/>
<rect x="499.45" y="210.85" width="2.3" height="2.3" fill="#c41436"/>
<rect x="498.95" y="220.35" width="2.3" height="2.3" fill="#c41436"/>
<rect x="499.95" y="223.85" width="2.3" height="2.3" fill="#c41436"/>
<rect x="498.95" y="226.85" width="2.3" height="2.3" fill="#c41436"/>
<line x1="482.8" y1="192.8" x2="500.6" y2="192.8" stroke="#222" stroke-width="1.0"/>
<text x="491.70000000000005" y="190.20000000000002" font-size="5.0" text-anchor="middle" fill="#2a2a2a" color="#2a2a2a">*</text>
<text x="6.7" y="313" font-size="11" text-anchor="start" font-weight="bold" fill="#111" color="#111" style="stroke-width:0.45px">G</text>
<text x="51.3" y="316.0" font-size="8.0" text-anchor="middle" fill="#2a2a2a" color="#2a2a2a">MV411-luc</text>
<line x1="32.3" y1="317.3" x2="70.2" y2="317.3" stroke="#333" stroke-width="0.7"/>
<text x="33.4" y="325.1" font-size="5.6" text-anchor="middle" fill="#2a2a2a" color="#2a2a2a">Non-smoking</text>
<text x="70.3" y="325.1" font-size="5.8" text-anchor="middle" fill="#2a2a2a" color="#2a2a2a">Smoking</text>
<rect x="16.1" y="330.8" width="33.7" height="29.30000000000001" fill="#363636"/>
<rect x="16.1" y="330.8" width="33.7" height="1.1720000000000004" fill="#262626"/>
<g filter="url(#blur06)">
<path d="M18.7 346.2 L18.3 357.2 M21.9 346.2 L22.3 356.6 M20.3 347.2 L20.6 359.2" stroke="#b0b0b0" stroke-width="0.8" fill="none"/>
<ellipse cx="20.3" cy="332.3" rx="1.2" ry="1.5" fill="#8a8a8a"/>
<path d="M19.04 332.56 L21.58 332.56 C22.85 334.76 23.94 338.42 23.94 344.28 Q23.94 347.21 22.85 347.21 L17.78 347.21 Q16.69 347.21 16.69 344.28 C16.69 338.42 17.78 334.76 19.04 332.56 Z" fill="#ece6f4"/>
<ellipse cx="20.3" cy="339.2" rx="3.5" ry="2.2" fill="#6a3ae0"/>
<path d="M27.1 346.2 L26.7 357.2 M30.4 346.2 L30.7 356.6 M28.7 347.2 L29.0 359.2" stroke="#b0b0b0" stroke-width="0.8" fill="none"/>
<ellipse cx="28.7" cy="332.3" rx="1.2" ry="1.5" fill="#8a8a8a"/>
<path d="M27.47 332.56 L30.01 332.56 C31.27 334.76 32.36 338.42 32.36 344.28 Q32.36 347.21 31.27 347.21 L26.20 347.21 Q25.11 347.21 25.11 344.28 C25.11 338.42 26.20 334.76 27.47 332.56 Z" fill="#ece6f4"/>
<ellipse cx="28.7" cy="339.2" rx="3.5" ry="2.2" fill="#6a3ae0"/>
<path d="M35.5 346.2 L35.2 357.2 M38.8 346.2 L39.2 356.6 M37.2 347.2 L37.5 359.2" stroke="#b0b0b0" stroke-width="0.8" fill="none"/>
<ellipse cx="37.2" cy="332.3" rx="1.2" ry="1.5" fill="#8a8a8a"/>
<path d="M35.89 332.56 L38.43 332.56 C39.70 334.76 40.79 338.42 40.79 344.28 Q40.79 347.21 39.70 347.21 L34.63 347.21 Q33.54 347.21 33.54 344.28 C33.54 338.42 34.63 334.76 35.89 332.56 Z" fill="#ece6f4"/>
<ellipse cx="37.2" cy="339.2" rx="3.5" ry="2.2" fill="#6a3ae0"/>
<path d="M44.0 346.2 L43.6 357.2 M47.2 346.2 L47.6 356.6 M45.6 347.2 L45.9 359.2" stroke="#b0b0b0" stroke-width="0.8" fill="none"/>
<ellipse cx="45.6" cy="332.3" rx="1.2" ry="1.5" fill="#8a8a8a"/>
<path d="M44.32 332.56 L46.86 332.56 C48.12 334.76 49.21 338.42 49.21 344.28 Q49.21 347.21 48.12 347.21 L43.05 347.21 Q41.96 347.21 41.96 344.28 C41.96 338.42 43.05 334.76 44.32 332.56 Z" fill="#ece6f4"/>
<ellipse cx="45.6" cy="339.2" rx="3.5" ry="2.2" fill="#6a3ae0"/>
</g>
<rect x="53.7" y="330.8" width="33.2" height="29.30000000000001" fill="#363636"/>
<rect x="53.7" y="330.8" width="33.2" height="1.1720000000000004" fill="#262626"/>
<g filter="url(#blur06)">
<path d="M56.2 346.2 L55.9 357.2 M59.5 346.2 L59.8 356.6 M57.9 347.2 L58.1 359.2" stroke="#9a9a9a" stroke-width="0.8" fill="none"/>
<ellipse cx="57.9" cy="332.3" rx="1.1" ry="1.5" fill="#8a8a8a"/>
<path d="M56.60 332.56 L59.10 332.56 C60.35 334.76 61.42 338.42 61.42 344.28 Q61.42 347.21 60.35 347.21 L55.35 347.21 Q54.28 347.21 54.28 344.28 C54.28 338.42 55.35 334.76 56.60 332.56 Z" fill="#a890e8"/>
<ellipse cx="57.9" cy="338.4" rx="2.9" ry="2.9" fill="#6a3ae0"/>
<ellipse cx="57.9" cy="342.8" rx="1.7" ry="1.5" fill="#e0d8f8"/>
<path d="M64.5 346.2 L64.2 357.2 M67.8 346.2 L68.1 356.6 M66.2 347.2 L66.5 359.2" stroke="#9a9a9a" stroke-width="0.8" fill="none"/>
<ellipse cx="66.2" cy="332.3" rx="1.1" ry="1.5" fill="#8a8a8a"/>
<path d="M64.90 332.56 L67.40 332.56 C68.65 334.76 69.72 338.42 69.72 344.28 Q69.72 347.21 68.65 347.21 L63.65 347.21 Q62.58 347.21 62.58 344.28 C62.58 338.42 63.65 334.76 64.90 332.56 Z" fill="#a890e8"/>
<ellipse cx="66.2" cy="338.4" rx="2.9" ry="2.9" fill="#6a3ae0"/>
<ellipse cx="66.2" cy="342.8" rx="1.7" ry="1.5" fill="#e0d8f8"/>
<path d="M72.8 346.2 L72.5 357.2 M76.1 346.2 L76.4 356.6 M74.5 347.2 L74.8 359.2" stroke="#9a9a9a" stroke-width="0.8" fill="none"/>
<ellipse cx="74.5" cy="332.3" rx="1.1" ry="1.5" fill="#8a8a8a"/>
<path d="M73.20 332.56 L75.70 332.56 C76.95 334.76 78.02 338.42 78.02 344.28 Q78.02 347.21 76.95 347.21 L71.95 347.21 Q70.88 347.21 70.88 344.28 C70.88 338.42 71.95 334.76 73.20 332.56 Z" fill="#a890e8"/>
<ellipse cx="74.5" cy="338.4" rx="2.9" ry="2.9" fill="#6a3ae0"/>
<ellipse cx="74.5" cy="342.8" rx="1.7" ry="1.5" fill="#e0d8f8"/>
<path d="M81.1 346.2 L80.8 357.2 M84.4 346.2 L84.7 356.6 M82.8 347.2 L83.0 359.2" stroke="#9a9a9a" stroke-width="0.8" fill="none"/>
<ellipse cx="82.8" cy="332.3" rx="1.1" ry="1.5" fill="#8a8a8a"/>
<path d="M81.50 332.56 L84.00 332.56 C85.25 334.76 86.32 338.42 86.32 344.28 Q86.32 347.21 85.25 347.21 L80.25 347.21 Q79.18 347.21 79.18 344.28 C79.18 338.42 80.25 334.76 81.50 332.56 Z" fill="#5a20f0"/>
</g>
<defs><linearGradient id="cbg0" x1="0" y1="0" x2="0" y2="1"><stop offset="0" stop-color="#b88858"/><stop offset="0.12" stop-color="#e0c868"/><stop offset="0.3" stop-color="#b0d880"/><stop offset="0.45" stop-color="#80d890"/><stop offset="0.62" stop-color="#70d0d8"/><stop offset="0.8" stop-color="#6080d8"/><stop offset="1" stop-color="#5038b0"/></linearGradient></defs>
<rect x="92.1" y="330.6" width="1.7" height="24.61200000000001" fill="url(#cbg0)"/>
<rect x="94.2" y="331.8306" width="0.6" height="0.5" fill="#c0c0c0"/>
<rect x="94.2" y="339.2142" width="0.6" height="0.5" fill="#c0c0c0"/>
<rect x="94.2" y="346.5978" width="0.6" height="0.5" fill="#c0c0c0"/>
<rect x="94.2" y="353.9814" width="0.6" height="0.5" fill="#c0c0c0"/>
<rect x="92.39999999999999" y="356.71200000000005" width="3.6" height="0.7" fill="#b8b8b8"/>
<rect x="92.39999999999999" y="358.51200000000006" width="3.0" height="0.7" fill="#b8b8b8"/>
<rect x="92.39999999999999" y="360.31200000000007" width="2.4000000000000004" height="0.7" fill="#b8b8b8"/>
<text transform="translate(11.1 345.2) rotate(-90)" font-size="5.8" text-anchor="middle" fill="#2a2a2a" color="#2a2a2a">Day 5</text>
<rect x="16.1" y="363.9" width="33.7" height="28.600000000000023" fill="#363636"/>
<rect x="16.1" y="363.9" width="33.7" height="1.144000000000001" fill="#262626"/>
<g filter="url(#blur06)">
<path d="M18.7 378.9 L18.3 389.6 M21.9 378.9 L22.3 389.1 M20.3 379.9 L20.6 391.6" stroke="#b0b0b0" stroke-width="0.8" fill="none"/>
<ellipse cx="20.3" cy="365.3" rx="1.2" ry="1.4" fill="#8a8a8a"/>
<path d="M19.04 365.62 L21.58 365.62 C22.85 367.76 23.94 371.34 23.94 377.06 Q23.94 379.92 22.85 379.92 L17.78 379.92 Q16.69 379.92 16.69 377.06 C16.69 371.34 17.78 367.76 19.04 365.62 Z" fill="#ece6f4"/>
<ellipse cx="20.3" cy="373.5" rx="2.5" ry="1.7" fill="#c0b0e8"/>
<path d="M27.1 378.9 L26.7 389.6 M30.4 378.9 L30.7 389.1 M28.7 379.9 L29.0 391.6" stroke="#b0b0b0" stroke-width="0.8" fill="none"/>
<ellipse cx="28.7" cy="365.3" rx="1.2" ry="1.4" fill="#8a8a8a"/>
<path d="M27.47 365.62 L30.01 365.62 C31.27 367.76 32.36 371.34 32.36 377.06 Q32.36 379.92 31.27 379.92 L26.20 379.92 Q25.11 379.92 25.11 377.06 C25.11 371.34 26.20 367.76 27.47 365.62 Z" fill="#ece6f4"/>
<ellipse cx="28.7" cy="373.5" rx="2.5" ry="1.7" fill="#c0b0e8"/>
<path d="M35.5 378.9 L35.2 389.6 M38.8 378.9 L39.2 389.1 M37.2 379.9 L37.5 391.6" stroke="#b0b0b0" stroke-width="0.8" fill="none"/>
<ellipse cx="37.2" cy="365.3" rx="1.2" ry="1.4" fill="#8a8a8a"/>
<path d="M35.89 365.62 L38.43 365.62 C39.70 367.76 40.79 371.34 40.79 377.06 Q40.79 379.92 39.70 379.92 L34.63 379.92 Q33.54 379.92 33.54 377.06 C33.54 371.34 34.63 367.76 35.89 365.62 Z" fill="#ece6f4"/>
<ellipse cx="37.2" cy="375.6" rx="3.5" ry="3.6" fill="#5a2cf0"/>
<path d="M44.0 378.9 L43.6 389.6 M47.2 378.9 L47.6 389.1 M45.6 379.9 L45.9 391.6" stroke="#b0b0b0" stroke-width="0.8" fill="none"/>
<ellipse cx="45.6" cy="365.3" rx="1.2" ry="1.4" fill="#8a8a8a"/>
<path d="M44.32 365.62 L46.86 365.62 C48.12 367.76 49.21 371.34 49.21 377.06 Q49.21 379.92 48.12 379.92 L43.05 379.92 Q41.96 379.92 41.96 377.06 C41.96 371.34 43.05 367.76 44.32 365.62 Z" fill="#ece6f4"/>
<ellipse cx="45.6" cy="375.6" rx="3.5" ry="3.6" fill="#5a2cf0"/>
</g>
<rect x="53.7" y="363.9" width="33.2" height="28.600000000000023" fill="#363636"/>
<rect x="53.7" y="363.9" width="33.2" height="1.144000000000001" fill="#262626"/>
<g filter="url(#blur06)">
<path d="M56.2 378.9 L55.9 389.6 M59.5 378.9 L59.8 389.1 M57.9 379.9 L58.1 391.6" stroke="#9a9a9a" stroke-width="0.8" fill="none"/>
<ellipse cx="57.9" cy="365.3" rx="1.1" ry="1.4" fill="#8a8a8a"/>
<path d="M56.60 365.62 L59.10 365.62 C60.35 367.76 61.42 371.34 61.42 377.06 Q61.42 379.92 60.35 379.92 L55.35 379.92 Q54.28 379.92 54.28 377.06 C54.28 371.34 55.35 367.76 56.60 365.62 Z" fill="#d8d0f4"/>
<ellipse cx="57.9" cy="371.3" rx="2.5" ry="2.1" fill="#6a40e0"/>
<path d="M64.5 378.9 L64.2 389.6 M67.8 378.9 L68.1 389.1 M66.2 379.9 L66.5 391.6" stroke="#9a9a9a" stroke-width="0.8" fill="none"/>
<ellipse cx="66.2" cy="365.3" rx="1.1" ry="1.4" fill="#8a8a8a"/>
<path d="M64.90 365.62 L67.40 365.62 C68.65 367.76 69.72 371.34 69.72 377.06 Q69.72 379.92 68.65 379.92 L63.65 379.92 Q62.58 379.92 62.58 377.06 C62.58 371.34 63.65 367.76 64.90 365.62 Z" fill="#d8d0f4"/>
<ellipse cx="66.2" cy="371.3" rx="2.5" ry="2.1" fill="#6a40e0"/>
<path d="M72.8 378.9 L72.5 389.6 M76.1 378.9 L76.4 389.1 M74.5 379.9 L74.8 391.6" stroke="#9a9a9a" stroke-width="0.8" fill="none"/>
<ellipse cx="74.5" cy="365.3" rx="1.1" ry="1.4" fill="#8a8a8a"/>
<path d="M73.20 365.62 L75.70 365.62 C76.95 367.76 78.02 371.34 78.02 377.06 Q78.02 379.92 76.95 379.92 L71.95 379.92 Q70.88 379.92 70.88 377.06 C70.88 371.34 71.95 367.76 73.20 365.62 Z" fill="#5020f0"/>
<ellipse cx="74.5" cy="372.8" rx="1.7" ry="1.4" fill="#8060f8"/>
<path d="M81.1 378.9 L80.8 389.6 M84.4 378.9 L84.7 389.1 M82.8 379.9 L83.0 391.6" stroke="#9a9a9a" stroke-width="0.8" fill="none"/>
<ellipse cx="82.8" cy="365.3" rx="1.1" ry="1.4" fill="#8a8a8a"/>
<path d="M81.50 365.62 L84.00 365.62 C85.25 367.76 86.32 371.34 86.32 377.06 Q86.32 379.92 85.25 379.92 L80.25 379.92 Q79.18 379.92 79.18 377.06 C79.18 371.34 80.25 367.76 81.50 365.62 Z" fill="#5020f0"/>
<ellipse cx="82.8" cy="372.8" rx="1.7" ry="1.4" fill="#8060f8"/>
</g>
<defs><linearGradient id="cbg1" x1="0" y1="0" x2="0" y2="1"><stop offset="0" stop-color="#b88858"/><stop offset="0.12" stop-color="#e0c868"/><stop offset="0.3" stop-color="#b0d880"/><stop offset="0.45" stop-color="#80d890"/><stop offset="0.62" stop-color="#70d0d8"/><stop offset="0.8" stop-color="#6080d8"/><stop offset="1" stop-color="#5038b0"/></linearGradient></defs>
<rect x="92.1" y="363.7" width="1.7" height="24.02400000000002" fill="url(#cbg1)"/>
<rect x="94.2" y="364.9012" width="0.6" height="0.5" fill="#c0c0c0"/>
<rect x="94.2" y="372.1084" width="0.6" height="0.5" fill="#c0c0c0"/>
<rect x="94.2" y="379.3156" width="0.6" height="0.5" fill="#c0c0c0"/>
<rect x="94.2" y="386.5228" width="0.6" height="0.5" fill="#c0c0c0"/>
<rect x="92.39999999999999" y="389.224" width="3.6" height="0.7" fill="#b8b8b8"/>
<rect x="92.39999999999999" y="391.024" width="3.0" height="0.7" fill="#b8b8b8"/>
<rect x="92.39999999999999" y="392.824" width="2.4000000000000004" height="0.7" fill="#b8b8b8"/>
<text transform="translate(11.1 378.3) rotate(-90)" font-size="5.8" text-anchor="middle" fill="#2a2a2a" color="#2a2a2a">Day 9</text>
<rect x="16.1" y="397.0" width="33.7" height="29.80000000000001" fill="#363636"/>
<rect x="16.1" y="397.0" width="33.7" height="1.1920000000000004" fill="#262626"/>
<g filter="url(#blur06)">
<path d="M18.7 412.7 L18.3 423.8 M21.9 412.7 L22.3 423.2 M20.3 413.7 L20.6 425.9" stroke="#b0b0b0" stroke-width="0.8" fill="none"/>
<ellipse cx="20.3" cy="398.5" rx="1.2" ry="1.5" fill="#8a8a8a"/>
<path d="M19.04 398.79 L21.58 398.79 C22.85 401.02 23.94 404.75 23.94 410.71 Q23.94 413.69 22.85 413.69 L17.78 413.69 Q16.69 413.69 16.69 410.71 C16.69 404.75 17.78 401.02 19.04 398.79 Z" fill="#ece6f4"/>
<ellipse cx="20.3" cy="404.7" rx="2.5" ry="2.2" fill="#b0a0e8"/>
<path d="M27.1 412.7 L26.7 423.8 M30.4 412.7 L30.7 423.2 M28.7 413.7 L29.0 425.9" stroke="#b0b0b0" stroke-width="0.8" fill="none"/>
<ellipse cx="28.7" cy="398.5" rx="1.2" ry="1.5" fill="#8a8a8a"/>
<path d="M27.47 398.79 L30.01 398.79 C31.27 401.02 32.36 404.75 32.36 410.71 Q32.36 413.69 31.27 413.69 L26.20 413.69 Q25.11 413.69 25.11 410.71 C25.11 404.75 26.20 401.02 27.47 398.79 Z" fill="#ece6f4"/>
<ellipse cx="28.7" cy="404.7" rx="2.5" ry="2.2" fill="#b0a0e8"/>
<path d="M35.5 412.7 L35.2 423.8 M38.8 412.7 L39.2 423.2 M37.2 413.7 L37.5 425.9" stroke="#b0b0b0" stroke-width="0.8" fill="none"/>
<ellipse cx="37.2" cy="398.5" rx="1.2" ry="1.5" fill="#8a8a8a"/>
<path d="M35.89 398.79 L38.43 398.79 C39.70 401.02 40.79 404.75 40.79 410.71 Q40.79 413.69 39.70 413.69 L34.63 413.69 Q33.54 413.69 33.54 410.71 C33.54 404.75 34.63 401.02 35.89 398.79 Z" fill="#5a2cf0"/>
<path d="M44.0 412.7 L43.6 423.8 M47.2 412.7 L47.6 423.2 M45.6 413.7 L45.9 425.9" stroke="#b0b0b0" stroke-width="0.8" fill="none"/>
<ellipse cx="45.6" cy="398.5" rx="1.2" ry="1.5" fill="#8a8a8a"/>
<path d="M44.32 398.79 L46.86 398.79 C48.12 401.02 49.21 404.75 49.21 410.71 Q49.21 413.69 48.12 413.69 L43.05 413.69 Q41.96 413.69 41.96 410.71 C41.96 404.75 43.05 401.02 44.32 398.79 Z" fill="#5a2cf0"/>
</g>
<rect x="53.7" y="397.0" width="33.2" height="29.80000000000001" fill="#363636"/>
<rect x="53.7" y="397.0" width="33.2" height="1.1920000000000004" fill="#262626"/>
<g filter="url(#blur06)">
<path d="M56.2 412.7 L55.9 423.8 M59.5 412.7 L59.8 423.2 M57.9 413.7 L58.1 425.9" stroke="#9a9a9a" stroke-width="0.8" fill="none"/>
<ellipse cx="57.9" cy="398.5" rx="1.1" ry="1.5" fill="#8a8a8a"/>
<path d="M56.60 398.79 L59.10 398.79 C60.35 401.02 61.42 404.75 61.42 410.71 Q61.42 413.69 60.35 413.69 L55.35 413.69 Q54.28 413.69 54.28 410.71 C54.28 404.75 55.35 401.02 56.60 398.79 Z" fill="#c8b8f0"/>
<ellipse cx="57.9" cy="404.7" rx="2.5" ry="3.0" fill="#6a40e0"/>
<path d="M64.5 412.7 L64.2 423.8 M67.8 412.7 L68.1 423.2 M66.2 413.7 L66.5 425.9" stroke="#9a9a9a" stroke-width="0.8" fill="none"/>
<ellipse cx="66.2" cy="398.5" rx="1.1" ry="1.5" fill="#8a8a8a"/>
<path d="M64.90 398.79 L67.40 398.79 C68.65 401.02 69.72 404.75 69.72 410.71 Q69.72 413.69 68.65 413.69 L63.65 413.69 Q62.58 413.69 62.58 410.71 C62.58 404.75 63.65 401.02 64.90 398.79 Z" fill="#c8b8f0"/>
<ellipse cx="66.2" cy="404.7" rx="2.5" ry="3.0" fill="#6a40e0"/>
<path d="M72.8 412.7 L72.5 423.8 M76.1 412.7 L76.4 423.2 M74.5 413.7 L74.8 425.9" stroke="#9a9a9a" stroke-width="0.8" fill="none"/>
<ellipse cx="74.5" cy="398.5" rx="1.1" ry="1.5" fill="#8a8a8a"/>
<path d="M73.20 398.79 L75.70 398.79 C76.95 401.02 78.02 404.75 78.02 410.71 Q78.02 413.69 76.95 413.69 L71.95 413.69 Q70.88 413.69 70.88 410.71 C70.88 404.75 71.95 401.02 73.20 398.79 Z" fill="#4a20f0"/>
<path d="M81.1 412.7 L80.8 423.8 M84.4 412.7 L84.7 423.2 M82.8 413.7 L83.0 425.9" stroke="#9a9a9a" stroke-width="0.8" fill="none"/>
<ellipse cx="82.8" cy="398.5" rx="1.1" ry="1.5" fill="#8a8a8a"/>
<path d="M81.50 398.79 L84.00 398.79 C85.25 401.02 86.32 404.75 86.32 410.71 Q86.32 413.69 85.25 413.69 L80.25 413.69 Q79.18 413.69 79.18 410.71 C79.18 404.75 80.25 401.02 81.50 398.79 Z" fill="#4a20f0"/>
</g>
<defs><linearGradient id="cbg2" x1="0" y1="0" x2="0" y2="1"><stop offset="0" stop-color="#b88858"/><stop offset="0.12" stop-color="#e0c868"/><stop offset="0.3" stop-color="#b0d880"/><stop offset="0.45" stop-color="#80d890"/><stop offset="0.62" stop-color="#70d0d8"/><stop offset="0.8" stop-color="#6080d8"/><stop offset="1" stop-color="#5038b0"/></linearGradient></defs>
<rect x="92.1" y="396.8" width="1.7" height="25.032000000000007" fill="url(#cbg2)"/>
<rect x="94.2" y="398.0516" width="0.6" height="0.5" fill="#c0c0c0"/>
<rect x="94.2" y="405.5612" width="0.6" height="0.5" fill="#c0c0c0"/>
<rect x="94.2" y="413.0708" width="0.6" height="0.5" fill="#c0c0c0"/>
<rect x="94.2" y="420.5804" width="0.6" height="0.5" fill="#c0c0c0"/>
<rect x="92.39999999999999" y="423.332" width="3.6" height="0.7" fill="#b8b8b8"/>
<rect x="92.39999999999999" y="425.132" width="3.0" height="0.7" fill="#b8b8b8"/>
<rect x="92.39999999999999" y="426.932" width="2.4000000000000004" height="0.7" fill="#b8b8b8"/>
<text transform="translate(11.1 411.9) rotate(-90)" font-size="5.8" text-anchor="middle" fill="#2a2a2a" color="#2a2a2a">Day 16</text>
<text x="106.9" y="313" font-size="11" text-anchor="start" font-weight="bold" fill="#111" color="#111" style="stroke-width:0.45px">H</text>
<line x1="133.6" y1="336.2" x2="133.6" y2="408.59999999999997" stroke="#222" stroke-width="1.3"/>
<line x1="132.9" y1="407.9" x2="197.6" y2="407.9" stroke="#222" stroke-width="1.3"/>
<line x1="130.9" y1="407.9" x2="133.6" y2="407.9" stroke="#222" stroke-width="1.0"/>
<text transform="translate(128.2 409.75) scale(1.1 1)" font-size="5.2" text-anchor="end" fill="#2a2a2a" color="#2a2a2a">0</text>
<line x1="130.9" y1="384.8" x2="133.6" y2="384.8" stroke="#222" stroke-width="1.0"/>
<text transform="translate(128.2 386.65000000000003) scale(1.1 1)" font-size="5.2" text-anchor="end" fill="#2a2a2a" color="#2a2a2a">50</text>
<line x1="130.9" y1="361.7" x2="133.6" y2="361.7" stroke="#222" stroke-width="1.0"/>
<text transform="translate(128.2 363.55) scale(1.1 1)" font-size="5.2" text-anchor="end" fill="#2a2a2a" color="#2a2a2a">100</text>
<line x1="130.9" y1="338.6" x2="133.6" y2="338.6" stroke="#222" stroke-width="1.0"/>
<text transform="translate(128.2 340.45000000000005) scale(1.1 1)" font-size="5.2" text-anchor="end" fill="#2a2a2a" color="#2a2a2a">150</text>
<text transform="translate(112.6 373.0) rotate(-90) scale(0.77 1)" font-size="6.7" text-anchor="middle" font-weight="bold" fill="#2a2a2a" color="#2a2a2a" style="stroke-width:0.15px">Cotinine (ng/mL)</text>
<rect x="171.4" y="364.2" width="17.6" height="43.69999999999999" fill="#c8506a"/>
<line x1="180.6" y1="356.9" x2="180.6" y2="373.3" stroke="#7a0a20" stroke-width="1.0"/>
<line x1="176.6" y1="356.9" x2="184.6" y2="356.9" stroke="#7a0a20" stroke-width="1.0"/>
<line x1="176.6" y1="373.3" x2="184.6" y2="373.3" stroke="#7a0a20" stroke-width="1.0"/>
<rect x="181.6" y="355.9" width="2.6" height="2.6" fill="#8a0a26"/>
<rect x="175.89999999999998" y="359.2" width="2.6" height="2.6" fill="#8a0a26"/>
<rect x="178.29999999999998" y="368.3" width="2.6" height="2.6" fill="#8a0a26"/>
<rect x="178.79999999999998" y="371.09999999999997" width="2.6" height="2.6" fill="#8a0a26"/>
<rect x="179.7" y="363.7" width="2.6" height="2.6" fill="#8a0a26"/>
<circle cx="144.8" cy="407.59999999999997" r="1.2" fill="#2c5a9a"/>
<circle cx="148.5" cy="407.59999999999997" r="1.2" fill="#2c5a9a"/>
<circle cx="152.2" cy="407.59999999999997" r="1.2" fill="#2c5a9a"/>
<circle cx="155.9" cy="407.59999999999997" r="1.2" fill="#2c5a9a"/>
<circle cx="159.6" cy="407.59999999999997" r="1.2" fill="#2c5a9a"/>
<line x1="152.2" y1="407.9" x2="152.2" y2="410.5" stroke="#222" stroke-width="1.0"/>
<line x1="180.6" y1="407.9" x2="180.6" y2="410.5" stroke="#222" stroke-width="1.0"/>
<path d="M152.2 405.2 V348.7 H180.6 V353.2" fill="none" stroke="#222" stroke-width="1.0"/>
<text x="167.3" y="349.0" font-size="5.2" text-anchor="middle" fill="#2a2a2a" color="#2a2a2a">****</text>
<text transform="translate(151.9 419.4) scale(0.9 1)" font-size="6.0" text-anchor="middle" fill="#2a2a2a" color="#2a2a2a">Non-</text>
<text transform="translate(151.9 426.0) scale(0.9 1)" font-size="6.0" text-anchor="middle" fill="#2a2a2a" color="#2a2a2a">smoking</text>
<text transform="translate(180.0 419.4) scale(0.9 1)" font-size="6.0" text-anchor="middle" fill="#2a2a2a" color="#2a2a2a">Smoke</text>
<text transform="translate(179.8 426.0) scale(0.92 1)" font-size="6.0" text-anchor="middle" fill="#2a2a2a" color="#2a2a2a">Exposed</text>
<text x="207.9" y="313" font-size="11" text-anchor="start" font-weight="bold" fill="#111" color="#111" style="stroke-width:0.45px">I</text>
<rect x="211.5" y="315.6" width="143.3" height="111.7" fill="none" stroke="#555" stroke-width="1.2"/>
<line x1="211.5" y1="327.2" x2="354.8" y2="327.2" stroke="#555" stroke-width="1.2"/>
<line x1="283.2" y1="315.6" x2="283.2" y2="427.3" stroke="#555" stroke-width="1.3"/>
<line x1="247.3" y1="327.2" x2="247.3" y2="427.3" stroke="#555" stroke-width="1.1"/>
<line x1="319.1" y1="327.2" x2="319.1" y2="427.3" stroke="#555" stroke-width="1.1"/>
<text x="247.1" y="323.8" font-size="5.8" text-anchor="middle" font-weight="bold" fill="#2a2a2a" color="#2a2a2a" style="stroke-width:0px">Hypomethylation</text>
<text x="318.9" y="323.8" font-size="5.8" text-anchor="middle" font-weight="bold" fill="#2a2a2a" color="#2a2a2a" style="stroke-width:0px">Hypermethylation</text>
<text x="229.4" y="336.8" font-size="5.9" text-anchor="middle" font-weight="bold" fill="#2a2a2a" color="#2a2a2a" style="stroke-width:0.15px">MBOAT2</text>
<text x="280.2" y="336.8" font-size="5.9" text-anchor="end" fill="#2a2a2a" color="#2a2a2a">4.37E-08</text>
<text x="300.9" y="336.8" font-size="5.8" text-anchor="middle" font-weight="bold" fill="#2a2a2a" color="#2a2a2a" style="stroke-width:0.15px">SLC25A22</text>
<text x="352.0" y="336.8" font-size="5.9" text-anchor="end" fill="#2a2a2a" color="#2a2a2a">1.42E-14</text>
<text x="229.4" y="346.42" font-size="5.9" text-anchor="middle" font-weight="bold" fill="#2a2a2a" color="#2a2a2a" style="stroke-width:0.15px">EXO5</text>
<text x="280.2" y="346.42" font-size="5.9" text-anchor="end" fill="#2a2a2a" color="#2a2a2a">1.46E-07</text>
<text x="300.9" y="346.42" font-size="5.8" text-anchor="middle" font-weight="bold" fill="#2a2a2a" color="#2a2a2a" style="stroke-width:0.15px">COL4A1</text>
<text x="352.0" y="346.42" font-size="5.9" text-anchor="end" fill="#2a2a2a" color="#2a2a2a">1.42E-14</text>
<text x="229.4" y="356.04" font-size="5.9" text-anchor="middle" font-weight="bold" fill="#2a2a2a" color="#2a2a2a" style="stroke-width:0.15px">GATA2</text>
<text x="280.2" y="356.04" font-size="5.9" text-anchor="end" fill="#2a2a2a" color="#2a2a2a">5.88E-07</text>
<text x="300.9" y="356.04" font-size="5.8" text-anchor="middle" font-weight="bold" fill="#2a2a2a" color="#2a2a2a" style="stroke-width:0.15px">SGK3</text>
<text x="352.0" y="356.04" font-size="5.9" text-anchor="end" fill="#2a2a2a" color="#2a2a2a">4.10E-14</text>
<text x="229.4" y="365.66" font-size="5.9" text-anchor="middle" font-weight="bold" fill="#2a2a2a" color="#2a2a2a" style="stroke-width:0.15px">CFAP70</text>
<text x="280.2" y="365.66" font-size="5.9" text-anchor="end" fill="#2a2a2a" color="#2a2a2a">1.14E-06</text>
<text x="300.9" y="365.66" font-size="5.8" text-anchor="middle" font-weight="bold" fill="#2a2a2a" color="#2a2a2a" style="stroke-width:0.15px">1-Mar</text>
<text x="352.0" y="365.66" font-size="5.9" text-anchor="end" fill="#2a2a2a" color="#2a2a2a">5.69E-14</text>
<text x="229.4" y="375.28000000000003" font-size="5.9" text-anchor="middle" font-weight="bold" fill="#2a2a2a" color="#2a2a2a" style="stroke-width:0.15px">ACOT4</text>
<text x="280.2" y="375.28000000000003" font-size="5.9" text-anchor="end" fill="#2a2a2a" color="#2a2a2a">1.33E-06</text>
<text x="300.9" y="375.28000000000003" font-size="5.8" text-anchor="middle" font-weight="bold" fill="#2a2a2a" color="#2a2a2a" style="stroke-width:0.15px">PENK</text>
<text x="352.0" y="375.28000000000003" font-size="5.9" text-anchor="end" fill="#2a2a2a" color="#2a2a2a">3.23E-13</text>
<text x="229.4" y="384.9" font-size="5.9" text-anchor="middle" font-weight="bold" fill="#2a2a2a" color="#2a2a2a" style="stroke-width:0.15px">ADPRH</text>
<text x="280.2" y="384.9" font-size="5.9" text-anchor="end" fill="#2a2a2a" color="#2a2a2a">1.20E-05</text>
<text x="300.9" y="384.9" font-size="5.8" text-anchor="middle" font-weight="bold" fill="#2a2a2a" color="#2a2a2a" style="stroke-width:0.15px">MAP1LC3A</text>
<text x="352.0" y="384.9" font-size="5.9" text-anchor="end" fill="#2a2a2a" color="#2a2a2a">4.24E-13</text>
<text x="229.4" y="394.52" font-size="5.9" text-anchor="middle" font-weight="bold" fill="#2a2a2a" color="#2a2a2a" style="stroke-width:0.15px">AHRR</text>
<text x="280.2" y="394.52" font-size="5.9" text-anchor="end" fill="#2a2a2a" color="#2a2a2a">1.49E-05</text>
<text x="300.9" y="394.52" font-size="5.8" text-anchor="middle" font-weight="bold" fill="#2a2a2a" color="#2a2a2a" style="stroke-width:0.15px">BTBD6</text>
<text x="352.0" y="394.52" font-size="5.9" text-anchor="end" fill="#2a2a2a" color="#2a2a2a">1.51E-11</text>
<text x="229.4" y="404.14" font-size="5.9" text-anchor="middle" font-weight="bold" fill="#2a2a2a" color="#2a2a2a" style="stroke-width:0.15px">TMEM176A</text>
<text x="280.2" y="404.14" font-size="5.9" text-anchor="end" fill="#2a2a2a" color="#2a2a2a">3.29E-05</text>
<text x="300.9" y="404.14" font-size="5.8" text-anchor="middle" font-weight="bold" fill="#2a2a2a" color="#2a2a2a" style="stroke-width:0.15px">STARD13</text>
<text x="352.0" y="404.14" font-size="5.9" text-anchor="end" fill="#2a2a2a" color="#2a2a2a">1.55E-11</text>
<text x="229.4" y="413.76" font-size="5.9" text-anchor="middle" font-weight="bold" fill="#2a2a2a" color="#2a2a2a" style="stroke-width:0.15px">PDE4D</text>
<text x="280.2" y="413.76" font-size="5.9" text-anchor="end" fill="#2a2a2a" color="#2a2a2a">3.38E-05</text>
<text x="300.9" y="413.76" font-size="5.8" text-anchor="middle" font-weight="bold" fill="#2a2a2a" color="#2a2a2a" style="stroke-width:0.15px">TICAM2</text>
<text x="352.0" y="413.76" font-size="5.9" text-anchor="end" fill="#2a2a2a" color="#2a2a2a">2.18E-10</text>
<text x="229.4" y="423.38" font-size="5.9" text-anchor="middle" font-weight="bold" fill="#2a2a2a" color="#2a2a2a" style="stroke-width:0.15px">MGMT</text>
<text x="280.2" y="423.38" font-size="5.9" text-anchor="end" fill="#2a2a2a" color="#2a2a2a">1.20E-04</text>
<text x="300.9" y="423.38" font-size="5.8" text-anchor="middle" font-weight="bold" fill="#2a2a2a" color="#2a2a2a" style="stroke-width:0.15px">PANO1</text>
<text x="352.0" y="423.38" font-size="5.9" text-anchor="end" fill="#2a2a2a" color="#2a2a2a">2.18E-10</text>
<text x="362.8" y="313" font-size="11" text-anchor="start" font-weight="bold" fill="#111" color="#111" style="stroke-width:0.45px">J</text>
<line x1="390.1" y1="329.0" x2="390.1" y2="408.8" stroke="#333" stroke-width="1.3"/>
<line x1="389.40000000000003" y1="408.1" x2="505.4" y2="408.1" stroke="#333" stroke-width="1.3"/>
<line x1="387.5" y1="408.1" x2="390.1" y2="408.1" stroke="#333" stroke-width="0.9"/>
<line x1="387.5" y1="389.0" x2="390.1" y2="389.0" stroke="#333" stroke-width="0.9"/>
<line x1="387.5" y1="369.90000000000003" x2="390.1" y2="369.90000000000003" stroke="#333" stroke-width="0.9"/>
<line x1="387.5" y1="350.80000000000007" x2="390.1" y2="350.80000000000007" stroke="#333" stroke-width="0.9"/>
<line x1="387.5" y1="331.70000000000005" x2="390.1" y2="331.70000000000005" stroke="#333" stroke-width="0.9"/>
<text x="384.6" y="410.1" font-size="5.6" text-anchor="end" fill="#2a2a2a" color="#2a2a2a">0</text>
<text x="384.6" y="371.90000000000003" font-size="5.6" text-anchor="end" fill="#2a2a2a" color="#2a2a2a">50</text>
<text x="384.6" y="333.70000000000005" font-size="5.6" text-anchor="end" fill="#2a2a2a" color="#2a2a2a">100</text>
<line x1="390.1" y1="408.1" x2="390.1" y2="410.70000000000005" stroke="#333" stroke-width="0.9"/>
<line x1="413.8" y1="408.1" x2="413.8" y2="410.70000000000005" stroke="#333" stroke-width="0.9"/>
<line x1="437.5" y1="408.1" x2="437.5" y2="410.70000000000005" stroke="#333" stroke-width="0.9"/>
<line x1="461.20000000000005" y1="408.1" x2="461.20000000000005" y2="410.70000000000005" stroke="#333" stroke-width="0.9"/>
<line x1="484.90000000000003" y1="408.1" x2="484.90000000000003" y2="410.70000000000005" stroke="#333" stroke-width="0.9"/>
<text transform="translate(390.1 419.3) scale(1.06 1)" font-size="6.3" text-anchor="middle" fill="#2a2a2a" color="#2a2a2a">0</text>
<text transform="translate(437.5 419.3) scale(1.06 1)" font-size="6.3" text-anchor="middle" fill="#2a2a2a" color="#2a2a2a">50</text>
<text transform="translate(484.90000000000003 419.3) scale(1.06 1)" font-size="6.3" text-anchor="middle" fill="#2a2a2a" color="#2a2a2a">100</text>
<text transform="translate(447.8 430.6) scale(0.66 1)" font-size="7.4" text-anchor="middle" font-weight="bold" fill="#2a2a2a" color="#2a2a2a" style="stroke-width:0.15px">Months</text>
<text transform="translate(369.3 368.5) rotate(-90) scale(0.77 1)" font-size="6.3" text-anchor="middle" font-weight="bold" fill="#2a2a2a" color="#2a2a2a" style="stroke-width:0.15px">Overall survival</text>
<polyline points="390.40,331.80 390.90,331.80 390.90,336.00 391.60,336.00 391.60,339.00 392.70,339.00 392.70,342.40 393.70,342.40 393.70,345.50 394.60,345.50 394.60,348.50 395.60,348.50 395.60,351.50 396.60,351.50 396.60,354.00 397.50,354.00 397.50,357.00 398.50,357.00 398.50,360.50 399.50,360.50 399.50,363.70 400.50,363.70 400.50,368.00 401.30,368.00 401.30,372.00 402.00,372.00 402.00,375.50 405.30,375.50 405.30,378.50 406.30,378.50 406.30,381.10 408.00,381.10 408.00,383.00 410.10,383.00 410.10,385.00 413.00,385.00 413.00,387.90 417.90,387.90 417.90,389.80 421.70,389.80 421.70,391.70 423.70,391.70 423.70,392.80 443.50,392.80 443.50,396.90 460.50,396.90" fill="none" stroke="#2e4270" stroke-width="1.0"/>
<polyline points="390.40,331.80 391.30,331.80 391.30,337.00 391.80,337.00 391.80,340.10 393.70,340.10 393.70,342.00 395.50,342.00 395.50,344.30 397.00,344.30 397.00,348.00 399.50,348.00 399.50,352.10 409.20,352.10 409.20,355.00 413.00,355.00 413.00,358.80 416.50,358.80 416.50,360.80 432.40,360.80 432.40,365.60 434.00,365.60 434.00,368.50 437.20,368.50 437.20,371.40 443.10,371.40 443.10,374.40 505.40,374.40" fill="none" stroke="#b81c44" stroke-width="1.0"/>
<rect x="411.9" y="359.1" width="1.2" height="1.3" fill="#4a1024"/>
<rect x="414.9" y="359.1" width="1.2" height="1.3" fill="#4a1024"/>
<rect x="418.2" y="359.1" width="1.2" height="1.3" fill="#4a1024"/>
<rect x="420.9" y="359.1" width="1.2" height="1.3" fill="#4a1024"/>
<rect x="423.9" y="359.1" width="1.2" height="1.3" fill="#4a1024"/>
<rect x="426.9" y="359.1" width="1.2" height="1.3" fill="#4a1024"/>
<rect x="429.9" y="359.1" width="1.2" height="1.3" fill="#4a1024"/>
<rect x="445.2" y="372.7" width="1.2" height="1.3" fill="#4a1024"/>
<rect x="447.9" y="372.7" width="1.2" height="1.3" fill="#4a1024"/>
<rect x="454.79999999999995" y="372.7" width="1.2" height="1.3" fill="#4a1024"/>
<rect x="457.5" y="372.7" width="1.2" height="1.3" fill="#4a1024"/>
<rect x="460.59999999999997" y="372.7" width="1.2" height="1.3" fill="#4a1024"/>
<rect x="462.5" y="372.7" width="1.2" height="1.3" fill="#4a1024"/>
<rect x="469.4" y="372.7" width="1.2" height="1.3" fill="#4a1024"/>
<rect x="471.7" y="372.7" width="1.2" height="1.3" fill="#4a1024"/>
<rect x="474.4" y="372.7" width="1.2" height="1.3" fill="#4a1024"/>
<rect x="480.4" y="372.7" width="1.2" height="1.3" fill="#4a1024"/>
<rect x="485.4" y="372.7" width="1.2" height="1.3" fill="#4a1024"/>
<rect x="491.4" y="372.7" width="1.2" height="1.3" fill="#4a1024"/>
<rect x="497.4" y="372.7" width="1.2" height="1.3" fill="#4a1024"/>
<rect x="502.4" y="372.7" width="1.2" height="1.3" fill="#4a1024"/>
<rect x="410.4" y="383.3" width="1.2" height="1.3" fill="#18223a"/>
<rect x="413.9" y="386.2" width="1.2" height="1.3" fill="#18223a"/>
<rect x="419.4" y="388.1" width="1.2" height="1.3" fill="#18223a"/>
<rect x="427.4" y="391.1" width="1.2" height="1.3" fill="#18223a"/>
<rect x="432.4" y="391.1" width="1.2" height="1.3" fill="#18223a"/>
<rect x="437.4" y="391.1" width="1.2" height="1.3" fill="#18223a"/>
<rect x="448.4" y="395.2" width="1.2" height="1.3" fill="#18223a"/>
<rect x="454.4" y="395.2" width="1.2" height="1.3" fill="#18223a"/>
<rect x="459.7" y="395.2" width="1.2" height="1.3" fill="#18223a"/>
<line x1="435.8" y1="331.8" x2="444" y2="331.8" stroke="#2e4270" stroke-width="1.0"/>
<line x1="439.9" y1="330.7" x2="439.9" y2="332" stroke="#2e4270" stroke-width="0.8"/>
<text transform="translate(447.8 333.7) scale(1.04 1)" font-size="5.2" text-anchor="start" fill="#2a2a2a" color="#2a2a2a">Gata2me Low (n = 50)</text>
<line x1="435.8" y1="340.8" x2="444" y2="340.8" stroke="#b81c44" stroke-width="1.0"/>
<line x1="439.9" y1="339.7" x2="439.9" y2="341" stroke="#b81c44" stroke-width="0.8"/>
<text transform="translate(447.8 342.6) scale(1.04 1)" font-size="5.2" text-anchor="start" fill="#2a2a2a" color="#2a2a2a">Gata2me High (n = 50)</text>
<path d="M505.6 374.4 H508.7 V394.9 H505.6" fill="none" stroke="#222" stroke-width="0.9"/>
<text transform="translate(508.6 384.7) rotate(90)" font-size="6.2" text-anchor="middle" font-weight="bold" fill="#2a2a2a" color="#2a2a2a" style="stroke-width:0.15px">***</text>
<rect x="0.5" y="0.5" width="519" height="438" fill="none" stroke="#555" stroke-width="1.2"/>
</svg>
</body></html>
